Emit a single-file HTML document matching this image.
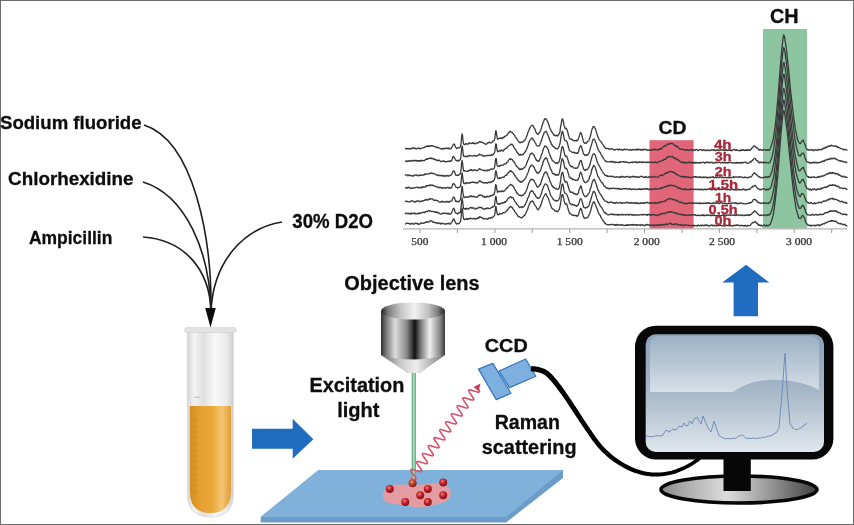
<!DOCTYPE html>
<html><head><meta charset="utf-8">
<style>
html,body{margin:0;padding:0;background:#fff;}
body{width:854px;height:525px;overflow:hidden;position:relative;}
svg{position:absolute;left:0;top:0;will-change:transform;}
.s text{font-family:"Liberation Sans",sans-serif;}
.ax text{font-family:"Liberation Serif",serif;font-weight:normal;}
</style></head><body>
<svg class="s" width="854" height="525" viewBox="0 0 854 525">
<defs>
 <linearGradient id="lensBody" x1="0" x2="1" y1="0" y2="0">
  <stop offset="0" stop-color="#303030"/>
  <stop offset="0.08" stop-color="#777"/>
  <stop offset="0.22" stop-color="#dcdcdc"/>
  <stop offset="0.4" stop-color="#8a8a8a"/>
  <stop offset="0.53" stop-color="#121212"/>
  <stop offset="0.62" stop-color="#7a7a7a"/>
  <stop offset="0.76" stop-color="#efefef"/>
  <stop offset="0.92" stop-color="#8a8a8a"/>
  <stop offset="1" stop-color="#3a3a3a"/>
 </linearGradient>
 <linearGradient id="cone" x1="0" x2="1" y1="0" y2="0">
  <stop offset="0" stop-color="#6c6c6c"/>
  <stop offset="0.3" stop-color="#c8c8c8"/>
  <stop offset="0.55" stop-color="#eeeeee"/>
  <stop offset="0.8" stop-color="#b0b0b0"/>
  <stop offset="1" stop-color="#777"/>
 </linearGradient>
 <linearGradient id="lensTop" x1="0" x2="1" y1="0" y2="0">
  <stop offset="0" stop-color="#262626"/>
  <stop offset="0.1" stop-color="#7c7c7c"/>
  <stop offset="0.3" stop-color="#c4c4c4"/>
  <stop offset="0.52" stop-color="#f2f2f2"/>
  <stop offset="0.75" stop-color="#c0c0c0"/>
  <stop offset="0.9" stop-color="#7c7c7c"/>
  <stop offset="1" stop-color="#262626"/>
 </linearGradient>
 <linearGradient id="scrTop" x1="0" x2="0" y1="0" y2="1">
  <stop offset="0" stop-color="#9cb1c5"/>
  <stop offset="1" stop-color="#d6dfe7"/>
 </linearGradient>
 <linearGradient id="scrBot" x1="0" x2="0" y1="0" y2="1">
  <stop offset="0" stop-color="#8ba2b9"/>
  <stop offset="0.45" stop-color="#a3b5c6"/>
  <stop offset="1" stop-color="#e2e8ee"/>
 </linearGradient>
 <linearGradient id="base" x1="0" x2="1" y1="0" y2="0">
  <stop offset="0" stop-color="#8a8a8a"/>
  <stop offset="0.2" stop-color="#b4b4b4"/>
  <stop offset="0.42" stop-color="#dcdcdc"/>
  <stop offset="0.68" stop-color="#9c9c9c"/>
  <stop offset="1" stop-color="#404040"/>
 </linearGradient>
 <linearGradient id="liquid" x1="0" x2="1" y1="0" y2="0">
  <stop offset="0" stop-color="#d38d1c"/>
  <stop offset="0.25" stop-color="#e5a030"/>
  <stop offset="0.55" stop-color="#e9a838"/>
  <stop offset="0.78" stop-color="#f4c576"/>
  <stop offset="1" stop-color="#e09c33"/>
 </linearGradient>
 <linearGradient id="glass" x1="0" x2="1" y1="0" y2="0">
  <stop offset="0" stop-color="#d6d6d6"/>
  <stop offset="0.15" stop-color="#f3f3f3"/>
  <stop offset="0.35" stop-color="#e0e0e0"/>
  <stop offset="0.6" stop-color="#f8f8f8"/>
  <stop offset="0.85" stop-color="#ebebeb"/>
  <stop offset="1" stop-color="#cfcfcf"/>
 </linearGradient>
 <linearGradient id="beam" x1="0" x2="1">
  <stop offset="0" stop-color="#4f9f6e"/>
  <stop offset="0.5" stop-color="#b4e2c2"/>
  <stop offset="1" stop-color="#4f9f6e"/>
 </linearGradient>
 <radialGradient id="ball" cx="0.4" cy="0.35" r="0.6">
  <stop offset="0" stop-color="#ee8080"/>
  <stop offset="0.5" stop-color="#c4232a"/>
  <stop offset="1" stop-color="#8a1418"/>
 </radialGradient>
 <radialGradient id="ball2" cx="0.4" cy="0.35" r="0.6">
  <stop offset="0" stop-color="#e8a060"/>
  <stop offset="0.5" stop-color="#c0402a"/>
  <stop offset="1" stop-color="#852018"/>
 </radialGradient>
 <clipPath id="scrClip"><rect x="645.7" y="334.3" width="178.3" height="117.7" rx="10"/></clipPath>
</defs>

<rect x="0.5" y="0.5" width="853" height="524" fill="#fff" stroke="#6c6c6c" stroke-width="1"/>

<g fill="#0d0d0d" stroke="#0d0d0d" stroke-width="0.3" font-weight="bold"><text x="0.00" y="129.30" font-size="19.00" textLength="141.50" lengthAdjust="spacingAndGlyphs">Sodium fluoride</text><text x="8.10" y="185.20" font-size="19.00" textLength="125.40" lengthAdjust="spacingAndGlyphs">Chlorhexidine</text><text x="28.90" y="244.00" font-size="18.50" textLength="83.50" lengthAdjust="spacingAndGlyphs">Ampicillin</text><text x="292.30" y="227.70" font-size="19.50" textLength="80.70" lengthAdjust="spacingAndGlyphs">30% D2O</text><text x="344.30" y="289.60" font-size="19.50" textLength="135.30" lengthAdjust="spacingAndGlyphs">Objective lens</text><text x="309.50" y="392.20" font-size="20.00" textLength="94.80" lengthAdjust="spacingAndGlyphs">Excitation</text><text x="337.20" y="417.10" font-size="20.00" textLength="42.20" lengthAdjust="spacingAndGlyphs">light</text><text x="484.80" y="351.90" font-size="19.00" textLength="42.90" lengthAdjust="spacingAndGlyphs">CCD</text><text x="494.70" y="428.60" font-size="20.00" textLength="65.20" lengthAdjust="spacingAndGlyphs">Raman</text><text x="481.80" y="453.90" font-size="20.00" textLength="94.80" lengthAdjust="spacingAndGlyphs">scattering</text><text x="658.50" y="133.80" font-size="19.00" textLength="27.90" lengthAdjust="spacingAndGlyphs">CD</text><text x="770.00" y="22.90" font-size="19.50" textLength="28.60" lengthAdjust="spacingAndGlyphs">CH</text></g>

<g fill="none" stroke="#1e1e1e" stroke-width="1.6">
 <path d="M144 125 C194 141 212 238 211 312"/>
 <path d="M143 182 C185 195 210 250 211 312"/>
 <path d="M143 237 C185 240 210 270 211 312"/>
 <path d="M282 222 C245 228 213 260 211 312"/>
</g>
<path d="M205.2 308 L215.8 308 L210.5 327.5 Z" fill="#0d0d0d"/>

<!-- test tube -->
<path d="M187.4 332 L233.3 332 L233.3 494 Q233.3 517 210.3 517 Q187.4 517 187.4 494 Z" fill="url(#glass)" stroke="#d6d6d6" stroke-width="0.8"/>
<path d="M189.8 406 L231 406 L231 491 Q231 513 210.4 513 Q189.8 513 189.8 491 Z" fill="url(#liquid)"/>
<rect x="184.5" y="327.4" width="51.8" height="5.2" rx="2.6" fill="#e2e2e2" stroke="#d0d0d0" stroke-width="0.6"/>
<line x1="194" y1="397.3" x2="200" y2="397.3" stroke="#b8b8b8" stroke-width="0.8"/>
<g stroke="#c98a2a" stroke-width="0.7">
 <line x1="193" y1="420" x2="198" y2="420"/><line x1="193" y1="426" x2="197" y2="426"/>
 <line x1="193" y1="432" x2="198" y2="432"/><line x1="193" y1="438" x2="197" y2="438"/>
 <line x1="193" y1="444" x2="198" y2="444"/><line x1="193" y1="450" x2="197" y2="450"/>
 <line x1="193" y1="456" x2="198" y2="456"/><line x1="193" y1="462" x2="197" y2="462"/>
 <line x1="193" y1="468" x2="198" y2="468"/><line x1="193" y1="474" x2="197" y2="474"/>
 <line x1="193" y1="480" x2="198" y2="480"/><line x1="193" y1="486" x2="197" y2="486"/>
 <line x1="193" y1="492" x2="198" y2="492"/>
</g>

<path d="M252 428.7 L292.7 428.7 L292.7 418.7 L313.3 439.3 L292.7 458.7 L292.7 448.7 L252 448.7 Z" fill="#1f6cc1"/>

<!-- slide -->
<path d="M318.6 470 L563 470 L563 478 L506 522.5 L260.7 522.5 L260.7 517 Z" fill="#6c9dca"/>
<path d="M318.6 470 L563 470 L506 517 L260.7 517 Z" fill="#80b1da"/>

<!-- sample blob -->
<path d="M383.0 492.9C383.7 490.9 386.0 489.3 388.0 487.9C390.0 486.5 391.2 485.1 394.9 484.6C398.6 484.1 405.0 484.9 410.0 484.8C415.0 484.7 420.2 484.5 425.0 484.2C429.8 483.9 434.8 482.6 438.7 483.2C442.6 483.8 446.6 486.1 448.6 487.9C450.6 489.7 451.1 491.8 450.8 493.9C450.5 496.0 449.3 499.0 446.6 500.8C443.9 502.6 439.2 503.7 434.7 504.8C430.2 505.9 424.8 507.2 419.8 507.3C414.8 507.4 409.9 506.3 404.9 505.6C399.9 504.9 393.4 503.9 389.9 503.0C386.4 502.1 385.1 501.6 384.0 499.9C382.9 498.2 382.3 494.9 383.0 492.9Z" fill="#e39ca2"/>
<g fill="url(#ball)">
 <circle cx="389.8" cy="488.9" r="4"/>
 <circle cx="427.8" cy="488.9" r="4"/>
 <circle cx="443.2" cy="482.4" r="4"/>
 <circle cx="420.2" cy="495.3" r="4"/>
 <circle cx="443.2" cy="495.3" r="4"/>
 <circle cx="405.3" cy="502" r="4"/>
 <circle cx="427.8" cy="502" r="4"/>
</g>
<circle cx="412.6" cy="483.2" r="4" fill="url(#ball2)"/>

<rect x="411.7" y="372" width="4.2" height="108" fill="url(#beam)"/>

<!-- objective lens -->
<path d="M381 311 L445 311 L445 355 L419.5 373 L408 373 L381 355 Z" fill="url(#lensBody)"/>
<path d="M381 355 Q413 364 445 355 L419.5 373 L408 373 Z" fill="url(#cone)"/>
<ellipse cx="413" cy="311" rx="32" ry="8.6" fill="url(#lensTop)"/>
<ellipse cx="413" cy="312" rx="30.5" ry="7" fill="url(#lensTop)" opacity="0.55"/>

<path d="M410.50 478.50L411.19 478.72L411.87 478.94L412.53 479.14L413.15 479.31L413.73 479.45L414.26 479.55L414.72 479.61L415.12 479.62L415.44 479.57L415.68 479.47L415.85 479.31L415.93 479.09L415.93 478.81L415.85 478.48L415.71 478.09L415.49 477.65L415.22 477.17L414.89 476.66L414.52 476.11L414.13 475.54L413.71 474.96L413.28 474.37L412.86 473.78L412.45 473.20L412.06 472.64L411.72 472.11L411.42 471.61L411.17 471.16L410.99 470.75L410.88 470.39L410.84 470.08L410.89 469.83L411.01 469.64L411.22 469.51L411.50 469.44L411.86 469.42L412.29 469.46L412.79 469.54L413.35 469.66L413.95 469.82L414.59 470.01L415.26 470.22L415.95 470.44L416.64 470.66L417.33 470.88L418.00 471.09L418.64 471.27L419.24 471.43L419.80 471.55L420.29 471.63L420.72 471.67L421.08 471.65L421.36 471.57L421.56 471.44L421.68 471.24L421.72 470.99L421.68 470.69L421.57 470.32L421.38 469.91L421.14 469.45L420.84 468.95L420.49 468.42L420.10 467.86L419.69 467.28L419.27 466.69L418.84 466.10L418.42 465.52L418.02 464.95L417.66 464.41L417.33 463.89L417.06 463.41L416.85 462.98L416.71 462.60L416.63 462.26L416.64 461.99L416.73 461.77L416.89 461.61L417.14 461.51L417.46 461.47L417.86 461.48L418.33 461.54L418.86 461.64L419.44 461.78L420.06 461.96L420.72 462.16L421.40 462.37L422.10 462.60L422.79 462.82L423.47 463.03L424.12 463.23L424.74 463.40L425.32 463.54L425.85 463.64L426.31 463.70L426.70 463.70L427.02 463.66L427.26 463.55L427.42 463.39L427.49 463.16L427.49 462.88L427.41 462.55L427.26 462.16L427.05 461.72L426.77 461.24L426.44 460.72L426.07 460.17L425.67 459.60L425.25 459.02L424.83 458.43L424.40 457.84L423.99 457.26L423.61 456.71L423.27 456.18L422.97 455.68L422.73 455.23L422.55 454.82L422.44 454.46L422.41 454.16L422.46 453.91L422.58 453.72L422.79 453.60L423.08 453.52L423.44 453.51L423.88 453.55L424.38 453.63L424.94 453.75L425.54 453.92L426.19 454.10L426.86 454.31L427.55 454.53L428.24 454.76L428.93 454.98L429.60 455.18L430.24 455.37L430.83 455.52L431.38 455.64L431.88 455.72L432.30 455.75L432.66 455.73L432.93 455.65L433.13 455.52L433.25 455.32L433.29 455.07L433.24 454.76L433.13 454.39L432.94 453.98L432.69 453.52L432.39 453.02L432.04 452.48L431.65 451.92L431.24 451.34L430.81 450.75L430.39 450.16L429.97 449.58L429.57 449.01L429.21 448.47L428.89 447.96L428.62 447.48L428.41 447.05L428.27 446.67L428.20 446.34L428.21 446.06L428.30 445.85L428.47 445.69L428.72 445.60L429.04 445.55L429.45 445.57L429.92 445.63L430.45 445.73L431.03 445.88L431.66 446.05L432.32 446.25L433.00 446.47L433.69 446.69L434.38 446.92L435.06 447.13L435.72 447.33L436.34 447.50L436.91 447.64L437.43 447.73L437.89 447.79L438.28 447.79L438.59 447.74L438.83 447.63L438.99 447.47L439.06 447.24L439.06 446.96L438.97 446.62L438.82 446.23L438.60 445.79L438.32 445.30L437.99 444.79L437.62 444.24L437.22 443.67L436.80 443.08L436.37 442.49L435.95 441.90L435.54 441.33L435.16 440.77L434.82 440.24L434.52 439.75L434.28 439.29L434.11 438.89L434.00 438.53L433.98 438.23L434.03 437.99L434.16 437.80L434.37 437.68L434.66 437.61L435.03 437.60L435.47 437.64L435.97 437.72L436.53 437.85L437.13 438.01L437.78 438.20L438.45 438.41L439.14 438.63L439.84 438.85L440.52 439.07L441.19 439.28L441.83 439.46L442.43 439.62L442.97 439.74L443.46 439.81L443.88 439.84L444.24 439.81L444.51 439.73L444.70 439.60L444.82 439.40L444.85 439.14L444.81 438.83L444.69 438.46L444.50 438.05L444.24 437.58L443.94 437.08L443.59 436.55L443.20 435.98L442.79 435.40L442.36 434.82L441.93 434.23L441.52 433.64L441.12 433.08L440.76 432.53L440.44 432.02L440.17 431.55L439.97 431.12L439.83 430.74L439.76 430.41L439.77 430.14L439.87 429.93L440.04 429.77L440.29 429.68L440.63 429.64L441.03 429.65L441.50 429.72L442.04 429.83L442.62 429.97L443.25 430.15L443.91 430.35L444.59 430.57L445.29 430.79L445.98 431.01L446.66 431.23L447.31 431.42L447.93 431.59L448.50 431.73L449.02 431.82L449.47 431.88L449.86 431.88L450.17 431.82L450.40 431.71L450.56 431.54L450.63 431.32L450.62 431.03L450.53 430.69L450.38 430.30L450.15 429.85L449.87 429.37L449.54 428.85L449.17 428.30L448.77 427.73L448.35 427.14L447.92 426.55L447.50 425.96L447.09 425.39L446.71 424.83L446.37 424.31L446.08 423.81L445.84 423.36L445.67 422.96L445.57 422.60L445.54 422.31L445.60 422.07L445.73 421.88L445.95 421.76L446.24 421.70L446.61 421.68L447.05 421.73L447.56 421.81L448.12 421.94L448.73 422.10L449.37 422.29L450.05 422.50L450.74 422.73L451.43 422.95L452.12 423.17L452.78 423.37L453.42 423.56L454.02 423.71L454.56 423.83L455.05 423.90L455.47 423.93L455.81 423.90L456.08 423.82L456.28 423.68L456.39 423.48L456.42 423.22L456.37 422.90L456.24 422.53L456.05 422.11L455.80 421.65L455.49 421.15L455.13 420.61L454.75 420.05L454.33 419.47L453.91 418.88L453.48 418.29L453.06 417.71L452.67 417.14L452.31 416.60L451.99 416.09L451.73 415.62L451.52 415.19L451.39 414.81L451.33 414.49L451.34 414.22L451.44 414.01L451.62 413.86L451.87 413.76L452.21 413.73L452.61 413.74L453.09 413.81L453.63 413.92L454.21 414.07L454.84 414.24L455.51 414.45L456.19 414.66L456.88 414.89L457.57 415.11L458.25 415.32L458.90 415.52L459.52 415.68L460.09 415.82L460.60 415.91L461.06 415.96L461.44 415.96L461.75 415.91L461.98 415.79L462.13 415.62L462.19 415.39L462.18 415.10L462.09 414.76L461.93 414.36L461.71 413.92L461.42 413.43L461.09 412.91L460.72 412.36L460.31 411.79L459.89 411.20L459.47 410.61L459.04 410.03L458.64 409.45L458.26 408.90L457.92 408.37L457.63 407.88L457.40 407.43L457.23 407.03L457.13 406.68L457.11 406.38L457.16 406.14L457.30 405.96L457.52 405.84L457.82 405.78L458.19 405.77L458.64 405.82L459.14 405.90L459.71 406.03L460.32 406.20L460.97 406.39L461.64 406.60L462.33 406.82L463.03 407.05L463.71 407.27L464.38 407.47L465.01 407.65L465.61 407.80L466.15 407.92L466.63 407.99L467.05 408.01L467.39 407.98L467.66 407.90L467.85 407.76L467.95 407.55L467.98 407.29L467.93 406.97L467.80 406.60L467.61 406.18L467.35 405.72L467.04 405.21L466.68 404.67L466.29 404.11L465.88 403.53L465.45 402.94L465.03 402.35L464.61 401.77L464.22 401.20L463.86 400.66L463.54 400.15L463.28 399.68L463.08 399.26L462.95 398.88L462.89 398.56L462.91 398.29L463.01 398.09L463.19 397.94L463.45 397.85L463.79 397.81L464.20 397.83L464.68 397.90L465.21 398.01L465.80 398.16L466.44 398.34L467.10 398.54L467.78 398.76L468.48 398.98L469.17 399.21L469.84 399.42L470.50 399.61L471.11 399.78L471.68 399.91L472.19 400.00L472.64 400.05L473.02 400.05L473.32 399.99L473.55 399.87L473.70 399.70L473.76 399.47L473.75 399.18L473.65 398.83L473.49 398.43L473.26 397.99L472.98 397.50L472.64 396.98L472.27 396.42L471.86 395.85L471.44 395.26L471.01 394.67L470.59 394.09L470.19 393.51L469.81 392.96L469.47 392.44L469.18 391.95L468.95 391.50L468.79 391.10L468.69 390.75L468.67 390.46L468.73 390.22L468.88 390.04L469.10 389.93L469.40 389.87L469.78 389.86L470.22 389.91L470.73 390.00L471.30 390.13L471.91 390.29L472.56 390.49L473.24 390.70L473.93 390.92L474.62 391.14L475.31 391.36L475.97 391.57L476.60 391.75L477.20 391.90L477.74 392.01L478.22 392.08L478.63 392.10L478.97 392.07L479.24 391.98L479.42 391.83L479.52 391.63L479.54 391.37L479.49 391.05L479.36 390.67L479.16 390.25L478.90 389.78L478.59 389.27L478.23 388.73L477.84 388.17L477.43 387.59L477.00 387.00" fill="none" stroke="#d9506c" stroke-width="1.6"/>
<path d="M473.5 387 L480.5 383.5 L478.5 391 Z" fill="#c83a55"/>

<!-- CCD -->
<g fill="#7db0de" stroke="#3474bb" stroke-width="1.2" stroke-linejoin="round">
 <path d="M499 371 L525.7 359 L535.8 376.2 L509.5 387.6 Z"/>
 <path d="M478.5 369.1 L492.8 363.4 L511 393.3 L496.2 399.6 Z"/>
</g>
<path d="M530.5 371.2L531.3 371.3L532.4 371.5L533.6 371.6L534.9 371.8L536.3 372.1L537.7 372.3L539.1 372.6L540.4 373.0L541.6 373.4L542.6 373.8L543.4 374.2L544.3 374.8L545.1 375.3L545.9 375.9L546.6 376.6L547.4 377.3L548.2 378.1L549.1 379.0L550.0 380.0L551.0 381.1L552.0 382.3L553.1 383.5L554.2 384.9L555.3 386.3L556.4 387.8L557.6 389.4L558.8 390.9L559.9 392.5L561.1 394.1L562.3 395.7L563.4 397.3L564.5 399.0L565.7 400.6L566.8 402.3L567.9 404.1L569.1 405.8L570.2 407.5L571.4 409.3L572.5 411.0L573.7 412.7L574.8 414.5L576.0 416.2L577.1 417.9L578.2 419.6L579.4 421.4L580.5 423.1L581.7 424.8L582.8 426.6L584.0 428.3L585.1 429.9L586.3 431.6L587.5 433.3L588.6 435.0L589.8 436.6L590.9 438.3L592.1 439.9L593.3 441.6L594.5 443.1L595.6 444.6L596.8 446.1L598.0 447.4L599.2 448.8L600.4 450.0L601.5 451.2L602.7 452.4L603.9 453.5L605.1 454.6L606.2 455.7L607.4 456.7L608.6 457.7L609.7 458.7L610.9 459.6L612.1 460.5L613.3 461.4L614.5 462.2L615.7 463.0L616.9 463.7L618.0 464.5L619.1 465.2L620.3 465.8L621.4 466.5L622.4 467.1L623.5 467.7L624.6 468.3L625.6 468.9L626.7 469.4L627.8 470.0L628.9 470.5L630.0 471.0L631.2 471.4L632.4 471.9L633.7 472.4L635.0 472.9L636.4 473.3L637.7 473.8L639.1 474.2L640.5 474.5L641.9 474.9L643.2 475.2L644.6 475.5L646.0 475.7L647.3 475.9L648.6 476.1L649.9 476.3L651.3 476.4L652.6 476.5L654.0 476.5L655.3 476.5L656.7 476.5L658.1 476.5L659.5 476.4L660.9 476.3L662.3 476.2L663.8 476.0L665.2 475.8L666.7 475.6L668.1 475.3L669.6 475.0L671.0 474.7L672.5 474.3L674.0 473.9L675.5 473.4L677.0 472.9L678.5 472.3L680.0 471.7L681.4 471.1L682.8 470.5L684.2 469.9L685.5 469.3L686.8 468.6L688.0 468.0L689.2 467.4L690.4 466.7L691.5 466.1L692.5 465.4L693.5 464.8L694.5 464.2L695.4 463.6L696.2 463.0L697.0 462.5L697.7 461.9L698.5 461.4L699.1 460.9L699.7 460.4L700.2 459.9L700.7 459.5L701.2 459.1L701.5 458.8L701.8 458.5L702.1 458.3L699.9 455.7L699.6 455.9L699.3 456.2L698.9 456.6L698.5 456.9L698.0 457.3L697.5 457.7L696.9 458.2L696.3 458.6L695.7 459.1L695.0 459.5L694.2 460.0L693.4 460.6L692.5 461.2L691.6 461.8L690.6 462.4L689.6 463.0L688.5 463.6L687.5 464.2L686.3 464.8L685.2 465.4L684.0 465.9L682.7 466.5L681.3 467.1L680.0 467.7L678.5 468.3L677.1 468.8L675.7 469.4L674.3 469.8L672.9 470.3L671.5 470.7L670.2 471.0L668.8 471.3L667.4 471.6L666.0 471.8L664.7 472.0L663.3 472.2L661.9 472.3L660.6 472.4L659.3 472.5L657.9 472.5L656.6 472.6L655.4 472.6L654.1 472.5L652.8 472.5L651.6 472.4L650.4 472.3L649.1 472.1L647.9 471.9L646.6 471.7L645.4 471.5L644.1 471.2L642.9 470.9L641.6 470.6L640.3 470.2L639.0 469.8L637.7 469.4L636.4 468.9L635.2 468.5L634.0 468.0L632.8 467.6L631.7 467.1L630.6 466.6L629.6 466.1L628.6 465.6L627.6 465.1L626.6 464.6L625.6 464.0L624.6 463.4L623.6 462.8L622.5 462.2L621.4 461.5L620.3 460.8L619.2 460.1L618.1 459.3L617.0 458.6L615.9 457.8L614.8 456.9L613.7 456.1L612.5 455.2L611.4 454.3L610.3 453.3L609.2 452.3L608.1 451.3L607.0 450.3L605.9 449.2L604.8 448.1L603.7 446.9L602.6 445.7L601.5 444.4L600.4 443.1L599.3 441.8L598.1 440.3L597.0 438.8L595.9 437.2L594.8 435.6L593.6 434.0L592.5 432.3L591.3 430.6L590.2 428.9L589.1 427.3L587.9 425.6L586.8 423.9L585.7 422.2L584.5 420.5L583.4 418.8L582.3 417.0L581.1 415.3L580.0 413.5L578.9 411.8L577.7 410.1L576.6 408.3L575.5 406.6L574.3 404.9L573.2 403.1L572.1 401.4L570.9 399.6L569.8 397.9L568.6 396.2L567.5 394.5L566.3 392.9L565.2 391.2L564.0 389.6L562.8 388.0L561.7 386.3L560.5 384.8L559.3 383.2L558.2 381.7L557.0 380.3L555.9 378.9L554.8 377.7L553.8 376.6L552.9 375.5L552.0 374.5L551.0 373.6L550.1 372.7L549.2 371.9L548.2 371.1L547.2 370.4L546.1 369.7L544.8 369.0L543.4 368.4L541.9 367.9L540.4 367.5L538.8 367.1L537.2 366.8L535.8 366.6L534.4 366.3L533.2 366.2L532.2 366.0L531.5 365.8Z" fill="#000"/>

<path d="M746.1 264.8 L769.4 282.5 L758 282.5 L758 316.3 L733.6 316.3 L733.6 282.5 L722.2 282.5 Z" fill="#1f6cc1"/>

<!-- monitor -->
<rect x="635" y="325.7" width="198.4" height="133.8" rx="21" fill="#070707"/>
<g clip-path="url(#scrClip)">
 <rect x="645" y="334" width="180" height="120" fill="url(#scrBot)"/>
 <path d="M650 345 Q650 336 659 336 L810 336 Q819 336 819 345 L819 390 C808 384 790 379 768 380 C752 381 742 386 733 392 L650 392 Z" fill="url(#scrTop)"/>
</g>

<path d="M646.0 435.7L647.0 436.2L648.0 436.2L649.0 436.6L650.0 436.8L651.0 436.4L652.0 436.5L653.0 437.0L654.0 436.2L655.0 435.8L656.0 436.3L657.0 435.5L658.0 435.9L659.0 435.7L660.0 435.9L661.0 435.6L662.0 436.1L663.0 434.9L664.0 433.0L665.0 431.7L666.0 430.0L667.0 430.7L668.0 431.3L669.0 432.2L670.0 430.8L671.0 430.8L672.0 429.8L673.0 429.0L674.0 429.3L675.0 429.7L676.0 430.0L677.0 428.7L678.0 427.3L679.0 426.0L680.0 426.3L681.0 426.7L682.0 427.0L683.0 425.0L684.0 423.0L685.0 424.5L686.0 426.0L687.0 425.5L688.0 425.0L689.0 423.0L690.0 421.0L691.0 422.5L692.0 424.0L693.0 421.5L694.0 419.0L695.0 418.3L696.0 417.7L697.0 417.0L698.0 419.0L699.0 421.0L700.0 422.5L701.0 424.0L702.0 420.0L703.0 416.0L704.0 418.5L705.0 421.0L706.0 423.3L707.0 425.7L708.0 428.0L709.0 429.3L710.0 430.7L711.0 432.0L712.0 428.3L713.0 424.7L714.0 421.0L715.0 424.0L716.0 427.0L717.0 430.0L718.0 433.0L719.0 435.8L720.0 435.9L721.0 437.2L722.0 437.2L723.0 437.9L724.0 438.5L725.0 438.7L726.0 438.9L727.0 438.4L728.0 438.8L729.0 438.4L730.0 438.9L731.0 438.9L732.0 438.1L733.0 438.1L734.0 438.2L735.0 439.0L736.0 437.8L737.0 437.4L738.0 436.4L739.0 436.0L740.0 435.7L741.0 435.3L742.0 435.0L743.0 435.6L744.0 436.4L745.0 437.3L746.0 438.1L747.0 438.4L748.0 438.2L749.0 438.4L750.0 438.4L751.0 438.5L752.0 438.2L753.0 437.7L754.0 438.4L755.0 438.5L756.0 438.4L757.0 438.1L758.0 438.2L759.0 437.7L760.0 438.3L761.0 437.9L762.0 437.4L763.0 437.0L764.0 437.6L765.0 437.5L766.0 436.4L767.0 436.9L768.0 436.3L769.0 435.9L770.0 435.8L771.0 435.8L772.0 435.4L773.0 434.0L774.0 434.1L775.0 433.0L776.0 433.0L777.0 431.3L778.0 429.7L779.0 428.0L780.2 414.0L781.5 400.2L782.7 384.2L783.8 369.0L785.0 353.0L786.2 374.0L787.5 395.0L788.8 409.5L790.0 424.0L791.0 425.3L792.0 426.7L793.0 428.5L794.0 428.5L795.0 429.5L796.0 429.3L797.0 429.6L798.0 429.6L799.0 428.5L800.0 428.2L801.0 427.9L802.0 427.3L803.0 426.0L804.0 425.0L805.0 425.0L806.0 423.6L807.0 423.0" fill="none" stroke="#6283b6" stroke-width="0.85"/>
<ellipse cx="739" cy="489.5" rx="78" ry="13.5" fill="url(#base)" stroke="#070707" stroke-width="3.6"/>
<rect x="723.5" y="458" width="27.3" height="33" fill="#070707"/>

<!-- chart -->
<rect x="649.5" y="140.2" width="44.1" height="88.8" fill="#e2667a"/>
<rect x="763" y="29" width="44.1" height="199.5" fill="#8dc5a1"/>
<line x1="403" y1="228.8" x2="847" y2="228.8" stroke="#b4b4b4" stroke-width="1.2"/>
<g stroke="#9a9a9a" stroke-width="1"><line x1="420.0" y1="229" x2="420.0" y2="233"/><line x1="457.4" y1="229" x2="457.4" y2="233"/><line x1="494.9" y1="229" x2="494.9" y2="233"/><line x1="532.3" y1="229" x2="532.3" y2="233"/><line x1="569.7" y1="229" x2="569.7" y2="233"/><line x1="607.1" y1="229" x2="607.1" y2="233"/><line x1="644.5" y1="229" x2="644.5" y2="233"/><line x1="682.0" y1="229" x2="682.0" y2="233"/><line x1="719.4" y1="229" x2="719.4" y2="233"/><line x1="756.8" y1="229" x2="756.8" y2="233"/><line x1="794.2" y1="229" x2="794.2" y2="233"/><line x1="831.7" y1="229" x2="831.7" y2="233"/></g>
<g class="ax" font-size="9.5" fill="#333" stroke="#333" stroke-width="0.25"><text x="419.8" y="245" text-anchor="middle" textLength="17" lengthAdjust="spacingAndGlyphs">500</text><text x="494.0" y="245" text-anchor="middle" textLength="26" lengthAdjust="spacingAndGlyphs">1 000</text><text x="569.7" y="245" text-anchor="middle" textLength="26" lengthAdjust="spacingAndGlyphs">1 500</text><text x="646.7" y="245" text-anchor="middle" textLength="26" lengthAdjust="spacingAndGlyphs">2 000</text><text x="722.0" y="245" text-anchor="middle" textLength="26" lengthAdjust="spacingAndGlyphs">2 500</text><text x="799.0" y="245" text-anchor="middle" textLength="26" lengthAdjust="spacingAndGlyphs">3 000</text></g>
<g fill="none" stroke="#3a3a3a" stroke-width="1.3" stroke-linejoin="round"><path d="M405.0 148.5L405.5 148.8L405.9 148.3L406.4 148.8L406.8 148.5L407.3 148.5L407.7 148.9L408.2 148.5L408.6 148.9L409.1 148.6L409.5 148.9L410.0 149.0L410.4 148.7L410.9 148.1L411.3 148.7L411.8 148.8L412.2 148.4L412.7 147.9L413.1 148.1L413.6 148.4L414.0 147.8L414.5 148.6L414.9 148.1L415.4 148.5L415.8 148.8L416.3 149.0L416.7 148.8L417.2 148.2L417.6 148.6L418.1 148.4L418.5 148.2L419.0 148.4L419.4 148.2L419.9 148.7L420.3 148.9L420.7 148.7L421.2 148.1L421.6 148.1L422.1 148.2L422.5 147.9L423.0 147.8L423.4 147.9L423.9 147.3L424.3 147.1L424.8 147.4L425.2 147.1L425.7 146.9L426.1 146.4L426.6 146.2L427.0 146.6L427.5 145.9L427.9 146.5L428.4 146.3L428.8 145.8L429.3 146.3L429.7 146.0L430.2 146.4L430.6 145.9L431.1 145.6L431.5 145.8L432.0 145.5L432.4 146.1L432.9 146.0L433.3 146.2L433.8 146.3L434.2 146.6L434.7 146.4L435.1 146.3L435.6 146.9L436.0 147.0L436.5 147.8L436.9 147.5L437.4 147.5L437.8 147.2L438.3 147.3L438.7 148.0L439.2 148.2L439.6 148.1L440.1 148.7L440.5 148.5L441.0 148.8L441.4 149.0L441.9 149.1L442.3 148.4L442.8 148.9L443.2 148.9L443.7 148.8L444.1 148.2L444.6 148.9L445.0 148.7L445.4 148.6L445.9 148.1L446.3 148.0L446.8 147.9L447.2 148.6L447.7 148.7L448.1 148.8L448.6 148.2L449.0 147.9L449.5 148.7L449.9 148.9L450.4 148.9L450.8 148.8L451.3 148.2L451.7 147.3L452.2 146.7L452.6 146.0L453.1 144.8L453.5 144.2L454.0 144.1L454.4 144.2L454.9 145.3L455.3 146.6L455.8 147.3L456.2 147.8L456.7 148.7L457.1 148.1L457.6 147.9L458.0 147.7L458.5 147.6L458.9 147.9L459.4 147.8L459.8 147.8L460.3 146.7L460.7 145.5L461.2 141.9L461.6 136.6L462.1 133.8L462.5 135.6L463.0 140.3L463.4 143.5L463.9 144.5L464.3 144.7L464.8 144.3L465.2 144.5L465.7 143.6L466.1 143.6L466.6 144.0L467.0 144.1L467.5 144.0L467.9 143.9L468.4 144.1L468.8 143.3L469.3 142.8L469.7 143.1L470.1 143.1L470.6 143.6L471.0 143.6L471.5 143.4L471.9 143.3L472.4 142.7L472.8 143.2L473.3 143.6L473.7 142.8L474.2 143.0L474.6 143.6L475.1 143.4L475.5 144.0L476.0 143.6L476.4 143.0L476.9 142.8L477.3 142.8L477.8 143.1L478.2 142.9L478.7 142.8L479.1 141.9L479.6 141.7L480.0 141.4L480.5 141.9L480.9 142.4L481.4 142.2L481.8 142.1L482.3 142.4L482.7 142.7L483.2 142.9L483.6 143.1L484.1 143.7L484.5 143.7L485.0 143.8L485.4 144.2L485.9 144.3L486.3 144.1L486.8 143.9L487.2 143.4L487.7 142.8L488.1 143.1L488.6 142.6L489.0 142.3L489.5 142.1L489.9 142.6L490.4 142.9L490.8 142.9L491.3 142.8L491.7 142.7L492.2 142.0L492.6 141.4L493.1 141.0L493.5 141.1L494.0 140.7L494.4 139.7L494.9 138.2L495.3 134.2L495.7 130.8L496.2 131.2L496.6 134.3L497.1 137.4L497.5 139.1L498.0 138.8L498.4 139.0L498.9 138.5L499.3 138.0L499.8 138.3L500.2 138.4L500.7 137.8L501.1 137.8L501.6 138.3L502.0 138.5L502.5 138.5L502.9 137.6L503.4 137.2L503.8 137.7L504.3 137.0L504.7 136.3L505.2 136.2L505.6 136.2L506.1 135.8L506.5 135.7L507.0 135.5L507.4 134.1L507.9 133.6L508.3 133.2L508.8 132.3L509.2 132.3L509.7 131.6L510.1 131.3L510.6 131.8L511.0 132.0L511.5 132.1L511.9 132.5L512.4 132.5L512.8 133.2L513.3 133.7L513.7 134.6L514.2 134.6L514.6 135.7L515.1 136.5L515.5 137.1L516.0 137.4L516.4 138.5L516.9 138.8L517.3 139.7L517.8 140.3L518.2 140.8L518.7 141.8L519.1 141.9L519.6 142.3L520.0 142.8L520.4 142.2L520.9 142.6L521.3 142.4L521.8 142.0L522.2 142.0L522.7 142.1L523.1 141.7L523.6 141.3L524.0 140.6L524.5 140.7L524.9 139.8L525.4 139.3L525.8 138.5L526.3 137.1L526.7 136.1L527.2 134.9L527.6 133.5L528.1 132.0L528.5 131.2L529.0 129.9L529.4 128.9L529.9 127.9L530.3 126.9L530.8 126.4L531.2 125.9L531.7 125.7L532.1 125.2L532.6 125.5L533.0 125.8L533.5 126.3L533.9 127.7L534.4 128.5L534.8 128.9L535.3 129.8L535.7 131.4L536.2 132.5L536.6 133.0L537.1 133.8L537.5 134.1L538.0 134.4L538.4 133.8L538.9 133.1L539.3 132.3L539.8 132.3L540.2 131.1L540.7 129.9L541.1 129.2L541.6 127.3L542.0 125.5L542.5 124.8L542.9 122.9L543.4 122.0L543.8 121.0L544.3 119.5L544.7 118.8L545.1 119.1L545.6 118.9L546.0 118.9L546.5 119.5L546.9 120.4L547.4 121.2L547.8 121.8L548.3 123.6L548.7 124.5L549.2 125.8L549.6 127.5L550.1 128.6L550.5 129.4L551.0 130.4L551.4 131.9L551.9 131.9L552.3 132.5L552.8 132.9L553.2 134.2L553.7 134.8L554.1 135.4L554.6 135.0L555.0 135.5L555.5 135.9L555.9 135.8L556.4 135.3L556.8 135.2L557.3 135.8L557.7 136.1L558.2 135.2L558.6 134.8L559.1 133.8L559.5 133.1L560.0 131.4L560.4 128.2L560.9 125.4L561.3 123.0L561.8 120.0L562.2 118.9L562.7 118.9L563.1 121.0L563.6 122.5L564.0 125.4L564.5 126.6L564.9 128.0L565.4 128.7L565.8 128.6L566.3 128.2L566.7 129.2L567.2 130.5L567.6 131.6L568.1 133.5L568.5 135.3L569.0 136.8L569.4 138.0L569.8 138.7L570.3 139.0L570.7 139.3L571.2 139.0L571.6 139.5L572.1 139.5L572.5 140.0L573.0 140.1L573.4 140.6L573.9 140.6L574.3 140.9L574.8 140.4L575.2 140.4L575.7 140.9L576.1 140.8L576.6 140.3L577.0 141.0L577.5 140.3L577.9 140.0L578.4 139.2L578.8 137.6L579.3 136.4L579.7 134.9L580.2 133.4L580.6 132.4L581.1 133.2L581.5 134.0L582.0 135.6L582.4 137.5L582.9 139.4L583.3 140.9L583.8 142.2L584.2 142.9L584.7 143.3L585.1 142.7L585.6 143.1L586.0 143.2L586.5 143.3L586.9 142.3L587.4 141.7L587.8 141.3L588.3 141.2L588.7 140.6L589.2 139.7L589.6 138.3L590.1 137.2L590.5 135.5L591.0 134.0L591.4 131.6L591.9 129.7L592.3 128.7L592.8 128.0L593.2 126.5L593.7 126.6L594.1 126.7L594.6 127.5L595.0 128.1L595.4 129.0L595.9 130.2L596.3 131.9L596.8 133.2L597.2 135.0L597.7 136.2L598.1 137.5L598.6 138.2L599.0 139.3L599.5 140.1L599.9 140.5L600.4 141.1L600.8 141.4L601.3 142.1L601.7 142.6L602.2 143.3L602.6 144.1L603.1 144.6L603.5 145.8L604.0 146.7L604.4 146.6L604.9 147.8L605.3 147.8L605.8 148.0L606.2 148.9L606.7 148.4L607.1 148.3L607.6 148.5L608.0 148.6L608.5 148.5L608.9 149.3L609.4 149.2L609.8 149.2L610.3 148.9L610.7 148.8L611.2 148.7L611.6 149.0L612.1 148.8L612.5 149.0L613.0 149.0L613.4 149.6L613.9 150.0L614.3 150.1L614.8 149.9L615.2 150.1L615.7 149.4L616.1 149.4L616.6 149.3L617.0 149.3L617.5 149.2L617.9 149.4L618.4 150.1L618.8 149.4L619.3 149.2L619.7 149.4L620.1 149.5L620.6 149.4L621.0 150.0L621.5 149.5L621.9 149.8L622.4 150.2L622.8 150.1L623.3 149.5L623.7 149.9L624.2 149.5L624.6 149.0L625.1 149.4L625.5 149.7L626.0 149.7L626.4 149.4L626.9 149.3L627.3 149.4L627.8 149.4L628.2 150.0L628.7 150.2L629.1 150.1L629.6 149.6L630.0 149.8L630.5 149.7L630.9 150.2L631.4 150.4L631.8 150.2L632.3 149.7L632.7 149.5L633.2 149.4L633.6 149.8L634.1 149.7L634.5 149.7L635.0 149.7L635.4 150.1L635.9 149.4L636.3 149.9L636.8 149.3L637.2 149.0L637.7 150.0L638.1 149.9L638.6 149.4L639.0 149.1L639.5 149.5L639.9 149.9L640.4 150.1L640.8 149.4L641.3 149.9L641.7 149.7L642.2 150.1L642.6 149.9L643.1 149.3L643.5 150.0L644.0 149.5L644.4 149.6L644.8 149.3L645.3 149.3L645.7 149.9L646.2 149.4L646.6 149.6L647.1 150.2L647.5 150.5L648.0 150.1L648.4 149.9L648.9 150.1L649.3 150.3L649.8 150.1L650.2 150.1L650.7 149.5L651.1 150.2L651.6 149.7L652.0 149.4L652.5 150.0L652.9 149.4L653.4 149.4L653.8 149.2L654.3 149.7L654.7 149.9L655.2 149.9L655.6 149.2L656.1 149.4L656.5 149.7L657.0 149.7L657.4 149.8L657.9 150.1L658.3 150.1L658.8 149.2L659.2 149.4L659.7 148.6L660.1 149.0L660.6 149.1L661.0 148.7L661.5 148.8L661.9 148.4L662.4 147.5L662.8 147.1L663.3 146.8L663.7 146.7L664.2 146.2L664.6 145.7L665.1 145.8L665.5 145.4L666.0 145.8L666.4 145.1L666.9 144.9L667.3 144.3L667.8 144.0L668.2 144.2L668.7 144.4L669.1 143.4L669.5 143.9L670.0 143.6L670.4 143.6L670.9 143.7L671.3 143.3L671.8 142.9L672.2 143.7L672.7 143.7L673.1 144.2L673.6 144.3L674.0 144.6L674.5 145.2L674.9 145.7L675.4 146.0L675.8 145.5L676.3 146.0L676.7 146.7L677.2 146.4L677.6 146.4L678.1 147.2L678.5 148.0L679.0 148.4L679.4 148.8L679.9 148.8L680.3 149.2L680.8 149.3L681.2 149.5L681.7 149.2L682.1 148.9L682.6 149.0L683.0 149.4L683.5 149.6L683.9 149.7L684.4 149.9L684.8 150.0L685.3 150.4L685.7 150.3L686.2 149.6L686.6 150.2L687.1 150.0L687.5 149.9L688.0 149.5L688.4 150.1L688.9 150.3L689.3 150.4L689.8 150.3L690.2 150.2L690.7 149.6L691.1 149.5L691.6 149.4L692.0 150.3L692.5 150.7L692.9 150.1L693.4 149.6L693.8 149.9L694.3 149.9L694.7 150.5L695.1 150.4L695.6 149.7L696.0 149.6L696.5 149.5L696.9 149.3L697.4 150.0L697.8 150.5L698.3 150.6L698.7 150.3L699.2 149.9L699.6 149.5L700.1 149.6L700.5 149.7L701.0 149.7L701.4 150.0L701.9 150.0L702.3 150.6L702.8 150.0L703.2 150.3L703.7 149.7L704.1 149.8L704.6 150.2L705.0 150.5L705.5 150.6L705.9 150.1L706.4 149.9L706.8 150.4L707.3 150.7L707.7 150.3L708.2 150.1L708.6 150.2L709.1 150.5L709.5 150.1L710.0 150.7L710.4 150.5L710.9 150.3L711.3 149.7L711.8 149.8L712.2 149.5L712.7 149.9L713.1 150.3L713.6 150.5L714.0 149.7L714.5 149.7L714.9 150.2L715.4 150.7L715.8 150.3L716.3 150.0L716.7 150.1L717.2 150.4L717.6 150.0L718.1 149.6L718.5 150.2L719.0 150.7L719.4 150.5L719.8 150.3L720.3 150.0L720.7 150.4L721.2 149.9L721.6 149.8L722.1 150.0L722.5 150.4L723.0 149.7L723.4 150.1L723.9 149.8L724.3 150.3L724.8 150.5L725.2 150.0L725.7 150.3L726.1 149.7L726.6 149.9L727.0 150.4L727.5 150.5L727.9 150.4L728.4 150.0L728.8 149.6L729.3 150.3L729.7 150.3L730.2 150.5L730.6 149.7L731.1 150.3L731.5 150.7L732.0 150.8L732.4 150.5L732.9 149.8L733.3 149.6L733.8 149.6L734.2 149.4L734.7 149.3L735.1 150.0L735.6 150.4L736.0 149.7L736.5 149.7L736.9 150.4L737.4 150.1L737.8 150.2L738.3 150.3L738.7 150.4L739.2 150.6L739.6 150.8L740.1 150.6L740.5 150.5L741.0 149.8L741.4 150.4L741.9 149.7L742.3 150.3L742.8 150.3L743.2 149.8L743.7 149.6L744.1 150.0L744.5 150.6L745.0 150.3L745.4 150.3L745.9 149.7L746.3 150.3L746.8 150.3L747.2 149.7L747.7 150.5L748.1 150.3L748.6 149.8L749.0 149.6L749.5 150.2L749.9 150.4L750.4 150.3L750.8 149.1L751.3 149.1L751.7 148.3L752.2 147.5L752.6 147.5L753.1 147.2L753.5 146.2L754.0 146.0L754.4 146.3L754.9 146.0L755.3 146.5L755.8 147.0L756.2 147.8L756.7 147.7L757.1 147.7L757.6 148.3L758.0 148.4L758.5 149.7L758.9 150.0L759.4 150.0L759.8 149.5L760.3 149.3L760.7 149.9L761.2 150.3L761.6 150.2L762.1 150.2L762.5 149.7L763.0 150.3L763.4 149.8L763.9 149.7L764.3 149.6L764.8 149.6L765.2 149.8L765.7 150.1L766.1 150.3L766.6 150.3L767.0 149.8L767.5 150.3L767.9 150.4L768.4 149.7L768.8 150.0L769.3 150.2L769.7 150.1L770.1 149.0L770.6 148.2L771.0 146.5L771.5 145.1L771.9 143.4L772.4 142.5L772.8 141.0L773.3 139.0L773.7 136.2L774.2 133.1L774.6 130.1L775.1 127.0L775.5 123.2L776.0 118.9L776.4 114.3L776.9 109.4L777.3 104.2L777.8 99.0L778.2 94.1L778.7 87.8L779.1 82.3L779.6 76.3L780.0 70.6L780.5 64.5L780.9 59.5L781.4 54.4L781.8 49.6L782.3 45.3L782.7 40.7L783.2 37.4L783.6 35.0L784.1 35.5L784.5 36.9L785.0 39.7L785.4 42.9L785.9 45.6L786.3 49.0L786.8 52.3L787.2 57.1L787.7 61.1L788.1 65.0L788.6 69.2L789.0 73.6L789.5 79.0L789.9 83.6L790.4 88.3L790.8 92.8L791.3 96.3L791.7 100.6L792.2 104.3L792.6 108.7L793.1 112.0L793.5 115.9L794.0 119.6L794.4 122.3L794.8 124.9L795.3 128.4L795.7 130.7L796.2 132.9L796.6 135.4L797.1 137.3L797.5 139.3L798.0 140.8L798.4 141.9L798.9 142.5L799.3 142.8L799.8 143.5L800.2 143.7L800.7 143.2L801.1 142.1L801.6 141.8L802.0 141.1L802.5 140.7L802.9 140.0L803.4 140.4L803.8 141.7L804.3 143.0L804.7 144.1L805.2 145.2L805.6 146.2L806.1 147.9L806.5 148.8L807.0 149.0L807.4 149.5L807.9 150.0L808.3 150.2L808.8 149.6L809.2 150.1L809.7 150.0L810.1 150.2L810.6 150.2L811.0 149.7L811.5 149.4L811.9 150.0L812.4 150.4L812.8 149.9L813.3 150.3L813.7 150.7L814.2 149.9L814.6 150.1L815.1 149.7L815.5 150.0L816.0 149.6L816.4 149.8L816.9 150.3L817.3 150.6L817.8 150.1L818.2 149.8L818.7 149.3L819.1 150.0L819.5 149.6L820.0 149.7L820.4 149.5L820.9 149.8L821.3 149.7L821.8 149.3L822.2 148.6L822.7 149.2L823.1 148.9L823.6 148.3L824.0 147.8L824.5 148.3L824.9 148.5L825.4 147.5L825.8 147.0L826.3 147.2L826.7 147.6L827.2 146.7L827.6 146.8L828.1 146.2L828.5 146.1L829.0 145.8L829.4 146.3L829.9 145.7L830.3 146.1L830.8 146.0L831.2 145.4L831.7 145.2L832.1 145.8L832.6 146.0L833.0 145.9L833.5 145.8L833.9 145.9L834.4 146.3L834.8 146.4L835.3 146.0L835.7 145.8L836.2 146.7L836.6 146.6L837.1 146.5L837.5 147.4L838.0 147.0L838.4 147.7L838.9 147.6L839.3 147.7L839.8 147.8L840.2 148.3L840.7 148.5L841.1 148.5L841.6 148.8L842.0 148.7L842.5 149.0L842.9 149.2L843.4 149.8L843.8 149.4L844.2 149.5L844.7 149.9L845.1 149.5L845.6 149.3L846.0 149.7L846.5 150.1L846.9 150.0L847.4 150.4"/><path d="M405.0 161.3L405.5 161.1L405.9 161.5L406.4 161.2L406.8 161.0L407.3 161.5L407.7 161.0L408.2 161.4L408.6 160.9L409.1 160.6L409.5 160.8L410.0 161.4L410.4 161.1L410.9 161.1L411.3 160.5L411.8 161.2L412.2 160.6L412.7 160.3L413.1 160.4L413.6 160.4L414.0 161.1L414.5 160.5L414.9 160.8L415.4 160.4L415.8 160.3L416.3 161.0L416.7 160.7L417.2 160.4L417.6 161.2L418.1 161.2L418.5 160.7L419.0 161.2L419.4 160.6L419.9 161.0L420.3 160.5L420.7 161.0L421.2 160.8L421.6 160.2L422.1 160.7L422.5 160.8L423.0 160.5L423.4 160.5L423.9 160.7L424.3 160.6L424.8 160.5L425.2 159.5L425.7 159.3L426.1 158.9L426.6 159.4L427.0 158.9L427.5 159.3L427.9 158.9L428.4 158.6L428.8 158.7L429.3 158.2L429.7 158.3L430.2 158.3L430.6 158.0L431.1 158.7L431.5 158.1L432.0 158.3L432.4 158.7L432.9 158.5L433.3 159.1L433.8 158.6L434.2 159.0L434.7 159.5L435.1 159.3L435.6 159.7L436.0 160.2L436.5 159.9L436.9 160.6L437.4 160.1L437.8 160.6L438.3 160.5L438.7 160.1L439.2 160.4L439.6 160.5L440.1 160.9L440.5 161.5L441.0 161.7L441.4 161.7L441.9 161.2L442.3 161.2L442.8 161.1L443.2 160.7L443.7 161.3L444.1 161.5L444.6 161.1L445.0 161.7L445.4 161.9L445.9 161.6L446.3 161.8L446.8 161.6L447.2 161.6L447.7 161.3L448.1 161.1L448.6 161.5L449.0 161.2L449.5 161.2L449.9 161.5L450.4 160.8L450.8 161.1L451.3 161.0L451.7 160.6L452.2 159.1L452.6 157.6L453.1 156.6L453.5 156.5L454.0 156.9L454.4 158.0L454.9 158.4L455.3 159.3L455.8 160.3L456.2 160.5L456.7 160.9L457.1 160.5L457.6 160.5L458.0 161.0L458.5 160.3L458.9 160.9L459.4 160.4L459.8 160.1L460.3 159.6L460.7 158.2L461.2 153.7L461.6 149.1L462.1 146.0L462.5 147.4L463.0 152.4L463.4 155.7L463.9 156.4L464.3 156.6L464.8 156.3L465.2 156.0L465.7 156.6L466.1 156.6L466.6 156.6L467.0 156.9L467.5 156.1L467.9 155.8L468.4 155.8L468.8 156.5L469.3 155.8L469.7 155.5L470.1 155.7L470.6 155.4L471.0 155.6L471.5 155.8L471.9 156.1L472.4 156.0L472.8 156.2L473.3 156.0L473.7 155.6L474.2 155.5L474.6 155.4L475.1 155.5L475.5 156.1L476.0 156.0L476.4 156.1L476.9 155.7L477.3 155.7L477.8 155.8L478.2 155.3L478.7 154.5L479.1 154.8L479.6 154.0L480.0 154.7L480.5 154.8L480.9 155.1L481.4 154.9L481.8 154.8L482.3 155.2L482.7 155.9L483.2 155.7L483.6 156.2L484.1 156.5L484.5 155.9L485.0 155.9L485.4 155.9L485.9 155.8L486.3 155.5L486.8 155.8L487.2 155.5L487.7 155.5L488.1 155.3L488.6 155.6L489.0 155.3L489.5 155.3L489.9 155.5L490.4 155.6L490.8 155.1L491.3 155.4L491.7 154.5L492.2 154.9L492.6 155.0L493.1 154.8L493.5 153.7L494.0 153.6L494.4 153.1L494.9 151.2L495.3 147.6L495.7 144.0L496.2 144.2L496.6 147.1L497.1 149.8L497.5 151.7L498.0 151.6L498.4 151.7L498.9 151.1L499.3 150.7L499.8 150.5L500.2 151.2L500.7 150.6L501.1 150.2L501.6 150.0L502.0 150.8L502.5 150.9L502.9 151.0L503.4 151.0L503.8 150.0L504.3 149.4L504.7 149.3L505.2 148.7L505.6 148.5L506.1 148.5L506.5 148.4L507.0 148.1L507.4 146.9L507.9 146.7L508.3 146.2L508.8 145.6L509.2 145.6L509.7 145.2L510.1 144.9L510.6 144.2L511.0 144.4L511.5 144.6L511.9 144.2L512.4 144.8L512.8 145.0L513.3 145.7L513.7 147.1L514.2 147.7L514.6 148.4L515.1 148.8L515.5 149.8L516.0 150.3L516.4 151.1L516.9 152.2L517.3 152.2L517.8 153.4L518.2 153.3L518.7 154.2L519.1 154.9L519.6 155.1L520.0 154.6L520.4 154.3L520.9 155.2L521.3 155.0L521.8 154.9L522.2 154.4L522.7 154.7L523.1 154.4L523.6 154.1L524.0 153.2L524.5 153.1L524.9 151.9L525.4 151.7L525.8 151.1L526.3 149.7L526.7 148.7L527.2 148.0L527.6 146.4L528.1 145.6L528.5 143.8L529.0 142.5L529.4 141.2L529.9 140.3L530.3 139.8L530.8 139.2L531.2 138.7L531.7 138.0L532.1 138.6L532.6 138.2L533.0 139.4L533.5 140.1L533.9 140.8L534.4 140.9L534.8 142.0L535.3 143.1L535.7 143.5L536.2 144.8L536.6 145.4L537.1 145.9L537.5 145.9L538.0 145.9L538.4 146.0L538.9 146.0L539.3 145.7L539.8 145.2L540.2 143.6L540.7 142.5L541.1 141.1L541.6 140.4L542.0 138.9L542.5 137.1L542.9 135.8L543.4 135.0L543.8 133.8L544.3 132.3L544.7 132.1L545.1 131.9L545.6 131.8L546.0 131.4L546.5 131.5L546.9 132.8L547.4 133.9L547.8 135.0L548.3 136.1L548.7 137.1L549.2 138.7L549.6 139.9L550.1 141.3L550.5 141.6L551.0 142.7L551.4 144.3L551.9 144.4L552.3 145.8L552.8 146.4L553.2 146.2L553.7 146.6L554.1 147.0L554.6 147.6L555.0 148.2L555.5 148.0L555.9 148.6L556.4 148.7L556.8 148.6L557.3 149.0L557.7 148.6L558.2 147.9L558.6 147.3L559.1 146.6L559.5 145.2L560.0 143.3L560.4 141.2L560.9 137.9L561.3 135.2L561.8 132.7L562.2 131.3L562.7 131.8L563.1 133.2L563.6 135.1L564.0 137.6L564.5 139.8L564.9 140.5L565.4 140.7L565.8 140.7L566.3 140.9L566.7 141.2L567.2 142.3L567.6 143.8L568.1 145.7L568.5 147.5L569.0 148.7L569.4 150.3L569.8 150.9L570.3 150.9L570.7 151.2L571.2 151.5L571.6 152.1L572.1 152.2L572.5 152.3L573.0 152.3L573.4 152.6L573.9 152.5L574.3 152.2L574.8 153.1L575.2 152.9L575.7 152.8L576.1 153.3L576.6 153.3L577.0 152.8L577.5 153.4L577.9 152.7L578.4 152.2L578.8 150.4L579.3 148.5L579.7 147.3L580.2 146.6L580.6 145.7L581.1 145.9L581.5 146.7L582.0 148.5L582.4 150.2L582.9 151.6L583.3 153.2L583.8 154.3L584.2 154.4L584.7 155.3L585.1 155.2L585.6 155.4L586.0 155.1L586.5 155.6L586.9 154.6L587.4 154.7L587.8 154.8L588.3 154.2L588.7 153.2L589.2 152.6L589.6 151.1L590.1 149.6L590.5 147.7L591.0 146.4L591.4 144.9L591.9 143.4L592.3 141.5L592.8 139.9L593.2 139.3L593.7 139.4L594.1 138.9L594.6 139.5L595.0 140.6L595.4 142.0L595.9 142.6L596.3 143.8L596.8 145.3L597.2 147.0L597.7 148.2L598.1 149.7L598.6 150.0L599.0 151.2L599.5 151.8L599.9 152.2L600.4 152.7L600.8 153.8L601.3 154.8L601.7 155.4L602.2 156.6L602.6 156.8L603.1 157.9L603.5 158.2L604.0 159.3L604.4 159.9L604.9 160.5L605.3 160.8L605.8 161.3L606.2 161.8L606.7 161.3L607.1 161.6L607.6 161.9L608.0 161.9L608.5 161.8L608.9 161.8L609.4 161.7L609.8 161.6L610.3 161.9L610.7 161.4L611.2 161.3L611.6 162.2L612.1 161.7L612.5 161.4L613.0 161.5L613.4 162.2L613.9 161.7L614.3 161.8L614.8 162.5L615.2 162.8L615.7 161.9L616.1 161.8L616.6 162.3L617.0 162.6L617.5 162.7L617.9 162.7L618.4 162.1L618.8 162.3L619.3 162.6L619.7 161.9L620.1 161.7L620.6 162.4L621.0 161.8L621.5 161.9L621.9 161.8L622.4 161.8L622.8 161.6L623.3 161.7L623.7 161.6L624.2 162.3L624.6 162.0L625.1 162.1L625.5 161.9L626.0 162.2L626.4 161.8L626.9 162.0L627.3 162.4L627.8 162.6L628.2 162.8L628.7 162.5L629.1 162.8L629.6 162.5L630.0 162.8L630.5 162.5L630.9 162.3L631.4 162.3L631.8 161.9L632.3 162.7L632.7 162.0L633.2 162.2L633.6 162.2L634.1 162.1L634.5 161.8L635.0 162.2L635.4 162.4L635.9 161.8L636.3 162.6L636.8 162.3L637.2 162.1L637.7 162.8L638.1 162.4L638.6 162.1L639.0 161.8L639.5 162.3L639.9 161.8L640.4 162.1L640.8 162.2L641.3 161.9L641.7 162.7L642.2 162.2L642.6 162.1L643.1 162.4L643.5 162.0L644.0 162.3L644.4 162.4L644.8 162.3L645.3 162.0L645.7 162.5L646.2 162.5L646.6 162.5L647.1 162.4L647.5 162.0L648.0 162.4L648.4 162.0L648.9 162.3L649.3 162.4L649.8 162.6L650.2 162.5L650.7 161.9L651.1 162.0L651.6 161.9L652.0 162.4L652.5 162.6L652.9 162.7L653.4 162.4L653.8 162.2L654.3 162.0L654.7 162.7L655.2 162.2L655.6 161.8L656.1 162.0L656.5 162.6L657.0 162.6L657.4 162.8L657.9 162.7L658.3 161.8L658.8 161.7L659.2 161.6L659.7 161.3L660.1 161.0L660.6 161.1L661.0 161.0L661.5 160.8L661.9 160.6L662.4 160.4L662.8 160.1L663.3 160.4L663.7 159.8L664.2 159.6L664.6 159.0L665.1 159.4L665.5 159.2L666.0 159.1L666.4 158.1L666.9 157.4L667.3 157.2L667.8 157.3L668.2 156.8L668.7 156.5L669.1 156.5L669.5 156.8L670.0 156.8L670.4 156.7L670.9 156.8L671.3 156.7L671.8 156.5L672.2 156.2L672.7 157.2L673.1 157.1L673.6 157.8L674.0 158.2L674.5 157.7L674.9 158.0L675.4 157.9L675.8 158.5L676.3 159.5L676.7 159.6L677.2 159.6L677.6 159.4L678.1 159.5L678.5 160.2L679.0 160.7L679.4 161.3L679.9 161.1L680.3 161.6L680.8 162.0L681.2 162.4L681.7 162.6L682.1 162.1L682.6 162.5L683.0 161.8L683.5 162.5L683.9 162.0L684.4 162.6L684.8 163.0L685.3 162.4L685.7 162.8L686.2 162.4L686.6 162.8L687.1 163.1L687.5 162.5L688.0 162.3L688.4 162.1L688.9 162.1L689.3 162.9L689.8 162.6L690.2 162.4L690.7 162.6L691.1 162.1L691.6 162.7L692.0 162.1L692.5 162.2L692.9 163.0L693.4 163.3L693.8 162.7L694.3 162.3L694.7 163.0L695.1 163.0L695.6 162.5L696.0 163.0L696.5 162.4L696.9 162.6L697.4 163.1L697.8 163.0L698.3 162.7L698.7 162.8L699.2 162.5L699.6 163.0L700.1 162.5L700.5 162.8L701.0 162.6L701.4 162.5L701.9 162.7L702.3 162.8L702.8 162.4L703.2 162.1L703.7 162.1L704.1 162.4L704.6 162.8L705.0 163.2L705.5 162.4L705.9 162.4L706.4 162.2L706.8 162.7L707.3 162.6L707.7 162.1L708.2 162.1L708.6 162.4L709.1 162.8L709.5 162.8L710.0 162.3L710.4 162.7L710.9 162.5L711.3 162.5L711.8 162.2L712.2 162.2L712.7 162.7L713.1 163.3L713.6 163.2L714.0 163.0L714.5 162.7L714.9 162.4L715.4 162.1L715.8 163.0L716.3 162.4L716.7 162.3L717.2 162.1L717.6 162.4L718.1 162.8L718.5 162.4L719.0 162.2L719.4 162.3L719.8 162.1L720.3 162.6L720.7 163.1L721.2 162.8L721.6 162.4L722.1 162.9L722.5 162.5L723.0 162.1L723.4 162.8L723.9 162.6L724.3 162.5L724.8 162.6L725.2 163.0L725.7 163.1L726.1 162.6L726.6 162.3L727.0 162.6L727.5 163.1L727.9 162.5L728.4 162.3L728.8 162.8L729.3 162.7L729.7 162.3L730.2 162.1L730.6 162.4L731.1 162.6L731.5 162.6L732.0 163.0L732.4 163.2L732.9 163.2L733.3 162.7L733.8 162.8L734.2 162.7L734.7 162.8L735.1 162.7L735.6 163.1L736.0 163.4L736.5 162.4L736.9 162.7L737.4 163.1L737.8 162.7L738.3 162.4L738.7 163.0L739.2 162.7L739.6 162.9L740.1 162.7L740.5 163.2L741.0 163.4L741.4 162.5L741.9 162.2L742.3 162.5L742.8 162.6L743.2 162.9L743.7 162.5L744.1 162.7L744.5 162.2L745.0 162.2L745.4 162.2L745.9 162.0L746.3 162.7L746.8 163.2L747.2 163.2L747.7 163.2L748.1 163.3L748.6 163.4L749.0 162.8L749.5 162.2L749.9 162.3L750.4 161.6L750.8 161.2L751.3 161.8L751.7 161.1L752.2 160.7L752.6 160.6L753.1 159.3L753.5 159.3L754.0 158.8L754.4 158.5L754.9 158.2L755.3 158.5L755.8 159.3L756.2 159.8L756.7 160.7L757.1 160.4L757.6 160.6L758.0 161.7L758.5 162.5L758.9 162.7L759.4 162.8L759.8 162.2L760.3 162.0L760.7 162.0L761.2 162.9L761.6 162.5L762.1 162.4L762.5 162.4L763.0 162.0L763.4 162.9L763.9 163.2L764.3 162.6L764.8 162.2L765.2 162.3L765.7 162.7L766.1 162.6L766.6 162.3L767.0 162.9L767.5 162.9L767.9 162.9L768.4 163.0L768.8 162.6L769.3 162.6L769.7 162.4L770.1 161.9L770.6 160.6L771.0 160.0L771.5 158.2L771.9 157.1L772.4 155.7L772.8 153.0L773.3 151.2L773.7 148.2L774.2 145.2L774.6 142.1L775.1 139.5L775.5 135.7L776.0 132.0L776.4 126.8L776.9 121.9L777.3 117.0L777.8 111.9L778.2 106.6L778.7 100.4L779.1 94.7L779.6 88.8L780.0 83.4L780.5 77.8L780.9 72.5L781.4 66.6L781.8 61.7L782.3 57.7L782.7 53.2L783.2 50.3L783.6 47.6L784.1 48.4L784.5 50.5L785.0 52.3L785.4 55.4L785.9 58.8L786.3 62.0L786.8 65.8L787.2 69.2L787.7 73.9L788.1 77.5L788.6 82.7L789.0 86.5L789.5 91.0L789.9 96.1L790.4 100.5L790.8 105.1L791.3 109.5L791.7 113.9L792.2 117.8L792.6 120.9L793.1 124.4L793.5 127.9L794.0 132.1L794.4 135.4L794.8 137.7L795.3 141.1L795.7 143.2L796.2 145.8L796.6 147.3L797.1 150.0L797.5 151.2L798.0 152.9L798.4 154.5L798.9 155.7L799.3 155.5L799.8 155.7L800.2 156.0L800.7 155.5L801.1 154.3L801.6 154.2L802.0 153.4L802.5 153.3L802.9 153.3L803.4 153.0L803.8 153.6L804.3 155.2L804.7 156.9L805.2 158.4L805.6 159.1L806.1 160.1L806.5 161.2L807.0 162.0L807.4 162.1L807.9 162.1L808.3 162.0L808.8 162.3L809.2 162.9L809.7 163.2L810.1 162.7L810.6 162.8L811.0 162.5L811.5 163.1L811.9 162.5L812.4 162.8L812.8 162.3L813.3 162.1L813.7 162.5L814.2 163.1L814.6 162.4L815.1 162.6L815.5 162.2L816.0 162.7L816.4 163.0L816.9 162.3L817.3 162.6L817.8 162.9L818.2 162.7L818.7 162.4L819.1 162.9L819.5 162.5L820.0 162.3L820.4 162.1L820.9 162.4L821.3 161.8L821.8 161.4L822.2 161.1L822.7 161.5L823.1 161.1L823.6 161.2L824.0 160.7L824.5 161.2L824.9 160.4L825.4 159.8L825.8 160.0L826.3 159.9L826.7 159.8L827.2 159.6L827.6 159.9L828.1 158.9L828.5 159.2L829.0 159.3L829.4 159.3L829.9 159.1L830.3 158.3L830.8 158.8L831.2 158.9L831.7 158.3L832.1 158.6L832.6 158.9L833.0 158.4L833.5 158.2L833.9 158.3L834.4 158.2L834.8 158.9L835.3 158.4L835.7 158.5L836.2 159.4L836.6 159.7L837.1 159.6L837.5 159.7L838.0 160.0L838.4 160.5L838.9 160.5L839.3 160.9L839.8 160.7L840.2 160.4L840.7 161.2L841.1 161.1L841.6 161.0L842.0 161.7L842.5 161.3L842.9 161.1L843.4 161.7L843.8 162.0L844.2 161.7L844.7 162.0L845.1 162.3L845.6 161.8L846.0 161.9L846.5 162.4L846.9 162.7L847.4 162.8"/><path d="M405.0 175.6L405.5 175.0L405.9 175.0L406.4 174.8L406.8 174.9L407.3 174.9L407.7 175.8L408.2 175.6L408.6 175.1L409.1 174.9L409.5 175.5L410.0 175.6L410.4 175.4L410.9 175.6L411.3 175.6L411.8 176.0L412.2 175.8L412.7 175.7L413.1 176.1L413.6 176.2L414.0 175.3L414.5 175.1L414.9 174.9L415.4 175.2L415.8 175.1L416.3 174.9L416.7 174.9L417.2 175.8L417.6 175.5L418.1 175.8L418.5 175.4L419.0 175.7L419.4 175.5L419.9 175.0L420.3 175.1L420.7 175.5L421.2 175.3L421.6 175.3L422.1 174.7L422.5 175.1L423.0 175.2L423.4 174.8L423.9 175.1L424.3 174.7L424.8 174.0L425.2 174.1L425.7 174.3L426.1 174.1L426.6 173.9L427.0 174.1L427.5 174.1L427.9 174.1L428.4 173.8L428.8 173.5L429.3 173.5L429.7 173.5L430.2 173.7L430.6 173.3L431.1 172.8L431.5 172.9L432.0 173.1L432.4 173.1L432.9 173.7L433.3 173.4L433.8 173.7L434.2 173.8L434.7 173.9L435.1 174.1L435.6 174.5L436.0 174.8L436.5 175.1L436.9 174.9L437.4 175.1L437.8 175.0L438.3 175.7L438.7 175.6L439.2 175.1L439.6 175.6L440.1 175.5L440.5 175.5L441.0 175.8L441.4 175.2L441.9 175.7L442.3 175.4L442.8 175.9L443.2 176.3L443.7 175.5L444.1 175.7L444.6 176.2L445.0 176.0L445.4 175.9L445.9 175.6L446.3 176.1L446.8 176.2L447.2 175.4L447.7 175.4L448.1 176.0L448.6 176.0L449.0 176.0L449.5 175.7L449.9 175.6L450.4 175.2L450.8 175.0L451.3 174.9L451.7 174.2L452.2 173.2L452.6 172.1L453.1 171.5L453.5 170.8L454.0 170.9L454.4 171.3L454.9 173.1L455.3 173.6L455.8 175.2L456.2 175.1L456.7 175.3L457.1 175.5L457.6 175.0L458.0 175.2L458.5 175.3L458.9 174.8L459.4 174.4L459.8 174.2L460.3 173.9L460.7 172.2L461.2 168.5L461.6 163.0L462.1 160.5L462.5 162.6L463.0 166.8L463.4 170.0L463.9 171.2L464.3 170.9L464.8 170.6L465.2 170.8L465.7 171.0L466.1 171.3L466.6 171.3L467.0 171.4L467.5 171.0L467.9 170.8L468.4 171.2L468.8 170.4L469.3 170.7L469.7 170.2L470.1 169.9L470.6 169.6L471.0 170.3L471.5 170.3L471.9 169.7L472.4 170.5L472.8 170.8L473.3 170.4L473.7 170.3L474.2 169.9L474.6 170.0L475.1 170.3L475.5 170.0L476.0 170.4L476.4 170.5L476.9 170.4L477.3 170.5L477.8 170.4L478.2 169.9L478.7 169.7L479.1 168.8L479.6 168.7L480.0 168.8L480.5 169.4L480.9 169.6L481.4 169.8L481.8 170.0L482.3 170.2L482.7 170.1L483.2 170.0L483.6 170.5L484.1 170.8L484.5 170.7L485.0 170.2L485.4 170.7L485.9 170.7L486.3 170.3L486.8 170.9L487.2 170.9L487.7 170.1L488.1 169.9L488.6 170.1L489.0 170.6L489.5 169.8L489.9 169.7L490.4 169.4L490.8 169.0L491.3 168.8L491.7 169.2L492.2 169.5L492.6 169.3L493.1 168.9L493.5 168.6L494.0 168.5L494.4 167.8L494.9 165.2L495.3 161.4L495.7 158.6L496.2 158.4L496.6 161.6L497.1 165.2L497.5 166.2L498.0 166.0L498.4 166.2L498.9 165.8L499.3 166.3L499.8 166.1L500.2 165.4L500.7 165.3L501.1 165.1L501.6 165.5L502.0 165.3L502.5 165.1L502.9 165.2L503.4 164.8L503.8 164.6L504.3 163.9L504.7 163.8L505.2 163.8L505.6 163.9L506.1 163.6L506.5 162.5L507.0 162.5L507.4 162.1L507.9 161.6L508.3 160.7L508.8 159.8L509.2 159.4L509.7 158.8L510.1 159.3L510.6 159.6L511.0 158.8L511.5 159.2L511.9 159.1L512.4 159.7L512.8 160.5L513.3 161.1L513.7 161.9L514.2 161.8L514.6 162.6L515.1 163.7L515.5 164.5L516.0 165.3L516.4 166.4L516.9 166.3L517.3 166.9L517.8 167.1L518.2 168.0L518.7 168.3L519.1 169.0L519.6 169.7L520.0 169.0L520.4 168.9L520.9 169.5L521.3 169.0L521.8 168.9L522.2 169.3L522.7 169.0L523.1 168.3L523.6 168.3L524.0 167.5L524.5 167.6L524.9 167.1L525.4 166.0L525.8 165.6L526.3 164.7L526.7 163.1L527.2 162.1L527.6 160.7L528.1 159.9L528.5 158.9L529.0 157.6L529.4 156.7L529.9 154.8L530.3 154.4L530.8 153.6L531.2 153.6L531.7 153.1L532.1 153.1L532.6 153.3L533.0 154.1L533.5 154.8L533.9 154.8L534.4 155.9L534.8 157.0L535.3 158.0L535.7 158.9L536.2 159.7L536.6 160.6L537.1 160.5L537.5 161.0L538.0 161.4L538.4 160.8L538.9 161.0L539.3 160.5L539.8 159.2L540.2 158.8L540.7 157.5L541.1 155.8L541.6 154.3L542.0 153.6L542.5 152.2L542.9 150.4L543.4 149.4L543.8 147.7L544.3 147.4L544.7 146.1L545.1 145.9L545.6 146.2L546.0 146.3L546.5 147.0L546.9 147.1L547.4 148.3L547.8 148.8L548.3 150.1L548.7 151.6L549.2 153.2L549.6 154.2L550.1 155.7L550.5 156.3L551.0 157.9L551.4 158.7L551.9 159.4L552.3 160.4L552.8 160.6L553.2 161.3L553.7 161.5L554.1 161.9L554.6 162.4L555.0 162.7L555.5 163.2L555.9 163.3L556.4 162.7L556.8 163.0L557.3 162.8L557.7 163.2L558.2 162.7L558.6 162.4L559.1 161.4L559.5 160.2L560.0 158.5L560.4 155.8L560.9 153.0L561.3 150.3L561.8 147.5L562.2 146.6L562.7 146.8L563.1 147.5L563.6 149.6L564.0 151.6L564.5 153.5L564.9 155.4L565.4 156.0L565.8 156.5L566.3 156.0L566.7 156.2L567.2 157.4L567.6 158.8L568.1 160.2L568.5 161.7L569.0 163.5L569.4 164.1L569.8 165.3L570.3 165.6L570.7 166.4L571.2 166.9L571.6 166.3L572.1 166.3L572.5 166.4L573.0 167.3L573.4 167.8L573.9 167.9L574.3 168.0L574.8 168.0L575.2 168.0L575.7 168.4L576.1 168.3L576.6 168.0L577.0 168.3L577.5 167.5L577.9 167.1L578.4 166.1L578.8 165.3L579.3 163.8L579.7 162.0L580.2 161.0L580.6 160.9L581.1 160.4L581.5 161.2L582.0 163.3L582.4 165.5L582.9 166.5L583.3 167.8L583.8 169.3L584.2 169.9L584.7 170.4L585.1 169.8L585.6 170.3L586.0 169.6L586.5 169.4L586.9 169.9L587.4 169.3L587.8 169.0L588.3 168.1L588.7 167.1L589.2 166.6L589.6 165.8L590.1 163.7L590.5 162.4L591.0 160.4L591.4 158.8L591.9 157.2L592.3 155.7L592.8 154.7L593.2 154.1L593.7 154.2L594.1 153.7L594.6 154.2L595.0 154.9L595.4 155.5L595.9 157.6L596.3 158.6L596.8 160.7L597.2 161.6L597.7 162.6L598.1 164.2L598.6 165.0L599.0 165.3L599.5 166.2L599.9 167.0L600.4 168.0L600.8 169.1L601.3 169.6L601.7 170.3L602.2 171.3L602.6 172.0L603.1 172.9L603.5 173.1L604.0 173.6L604.4 174.5L604.9 175.1L605.3 175.3L605.8 175.5L606.2 175.2L606.7 175.8L607.1 176.2L607.6 175.7L608.0 176.4L608.5 176.3L608.9 176.5L609.4 176.1L609.8 176.2L610.3 176.1L610.7 176.7L611.2 176.4L611.6 176.4L612.1 176.5L612.5 176.3L613.0 176.1L613.4 176.8L613.9 177.0L614.3 176.9L614.8 177.1L615.2 177.3L615.7 177.2L616.1 177.2L616.6 176.7L617.0 176.8L617.5 177.2L617.9 177.1L618.4 176.9L618.8 177.0L619.3 177.2L619.7 177.4L620.1 177.6L620.6 176.6L621.0 176.4L621.5 177.1L621.9 176.7L622.4 176.2L622.8 176.5L623.3 177.1L623.7 176.9L624.2 176.9L624.6 177.2L625.1 176.9L625.5 177.4L626.0 176.6L626.4 176.6L626.9 176.6L627.3 176.3L627.8 176.4L628.2 177.0L628.7 177.2L629.1 177.4L629.6 177.6L630.0 176.8L630.5 176.5L630.9 176.9L631.4 177.2L631.8 176.9L632.3 176.5L632.7 176.2L633.2 177.0L633.6 176.6L634.1 176.4L634.5 176.4L635.0 176.9L635.4 177.2L635.9 176.7L636.3 177.0L636.8 177.1L637.2 176.9L637.7 177.1L638.1 176.6L638.6 177.1L639.0 177.5L639.5 177.1L639.9 176.8L640.4 176.5L640.8 176.5L641.3 176.3L641.7 176.2L642.2 176.6L642.6 176.8L643.1 177.3L643.5 177.3L644.0 177.0L644.4 177.4L644.8 176.9L645.3 177.3L645.7 177.2L646.2 176.5L646.6 177.2L647.1 177.6L647.5 177.3L648.0 177.4L648.4 176.9L648.9 177.5L649.3 176.8L649.8 176.5L650.2 176.5L650.7 176.9L651.1 177.2L651.6 176.9L652.0 176.9L652.5 177.0L652.9 177.2L653.4 177.1L653.8 176.8L654.3 176.5L654.7 176.3L655.2 177.0L655.6 177.2L656.1 177.0L656.5 176.8L657.0 177.0L657.4 177.2L657.9 177.3L658.3 177.1L658.8 176.8L659.2 176.0L659.7 175.7L660.1 175.6L660.6 175.3L661.0 175.1L661.5 175.3L661.9 175.1L662.4 175.7L662.8 175.1L663.3 174.8L663.7 174.8L664.2 174.4L664.6 173.6L665.1 173.7L665.5 173.3L666.0 173.4L666.4 173.2L666.9 172.4L667.3 172.9L667.8 172.8L668.2 172.1L668.7 172.0L669.1 172.2L669.5 171.6L670.0 171.7L670.4 171.5L670.9 171.6L671.3 171.5L671.8 171.5L672.2 171.8L672.7 172.3L673.1 172.6L673.6 172.0L674.0 172.3L674.5 173.1L674.9 172.7L675.4 173.4L675.8 174.1L676.3 174.0L676.7 174.5L677.2 174.5L677.6 174.7L678.1 175.2L678.5 175.2L679.0 175.8L679.4 175.8L679.9 175.8L680.3 176.5L680.8 176.5L681.2 176.9L681.7 176.7L682.1 176.3L682.6 176.5L683.0 176.5L683.5 176.4L683.9 177.2L684.4 176.5L684.8 176.6L685.3 177.3L685.7 176.8L686.2 177.1L686.6 177.5L687.1 176.8L687.5 176.9L688.0 176.8L688.4 177.4L688.9 177.0L689.3 177.6L689.8 177.7L690.2 177.5L690.7 177.9L691.1 177.4L691.6 177.6L692.0 177.6L692.5 177.1L692.9 177.3L693.4 176.8L693.8 176.9L694.3 176.7L694.7 177.0L695.1 176.7L695.6 176.6L696.0 177.4L696.5 177.0L696.9 177.3L697.4 177.0L697.8 177.0L698.3 176.8L698.7 177.5L699.2 177.5L699.6 177.1L700.1 176.7L700.5 176.8L701.0 177.6L701.4 177.3L701.9 177.7L702.3 177.4L702.8 177.0L703.2 177.6L703.7 177.0L704.1 177.0L704.6 177.4L705.0 177.7L705.5 177.5L705.9 177.0L706.4 177.1L706.8 177.6L707.3 178.0L707.7 178.0L708.2 177.2L708.6 177.6L709.1 177.4L709.5 177.6L710.0 177.2L710.4 177.4L710.9 177.7L711.3 177.1L711.8 177.2L712.2 177.0L712.7 176.9L713.1 176.6L713.6 177.6L714.0 177.6L714.5 177.8L714.9 177.5L715.4 177.0L715.8 176.8L716.3 177.6L716.7 177.8L717.2 177.1L717.6 177.0L718.1 177.3L718.5 177.3L719.0 177.7L719.4 177.1L719.8 177.3L720.3 176.9L720.7 177.0L721.2 177.7L721.6 177.6L722.1 177.7L722.5 177.0L723.0 177.1L723.4 177.7L723.9 177.8L724.3 177.7L724.8 177.5L725.2 177.3L725.7 177.4L726.1 177.5L726.6 177.9L727.0 177.5L727.5 177.5L727.9 177.9L728.4 177.6L728.8 176.9L729.3 177.6L729.7 177.8L730.2 177.3L730.6 177.6L731.1 177.7L731.5 177.4L732.0 177.6L732.4 177.4L732.9 177.3L733.3 176.8L733.8 176.6L734.2 177.5L734.7 177.3L735.1 177.0L735.6 176.8L736.0 176.8L736.5 176.9L736.9 177.0L737.4 177.3L737.8 177.6L738.3 177.1L738.7 176.8L739.2 176.6L739.6 176.8L740.1 177.3L740.5 177.0L741.0 176.9L741.4 177.1L741.9 177.1L742.3 177.4L742.8 177.3L743.2 177.4L743.7 177.8L744.1 177.7L744.5 177.6L745.0 176.9L745.4 177.2L745.9 177.4L746.3 177.6L746.8 177.7L747.2 177.6L747.7 177.8L748.1 178.0L748.6 177.1L749.0 177.2L749.5 177.2L749.9 176.9L750.4 177.0L750.8 176.9L751.3 176.8L751.7 176.2L752.2 175.6L752.6 174.6L753.1 174.1L753.5 173.3L754.0 173.4L754.4 172.8L754.9 173.1L755.3 173.9L755.8 174.4L756.2 174.5L756.7 174.4L757.1 175.3L757.6 175.5L758.0 176.2L758.5 176.2L758.9 177.1L759.4 177.1L759.8 176.7L760.3 177.3L760.7 177.5L761.2 177.9L761.6 177.9L762.1 177.8L762.5 177.3L763.0 177.6L763.4 177.5L763.9 177.7L764.3 177.3L764.8 176.9L765.2 177.0L765.7 177.5L766.1 177.1L766.6 176.6L767.0 176.9L767.5 177.5L767.9 176.9L768.4 176.5L768.8 176.9L769.3 177.2L769.7 177.0L770.1 176.1L770.6 174.8L771.0 173.8L771.5 172.3L771.9 171.5L772.4 169.9L772.8 167.6L773.3 165.4L773.7 163.2L774.2 160.2L774.6 157.4L775.1 154.5L775.5 150.5L776.0 146.7L776.4 141.8L776.9 137.2L777.3 132.0L777.8 126.5L778.2 121.3L778.7 115.4L779.1 110.0L779.6 103.3L780.0 97.5L780.5 91.3L780.9 86.7L781.4 81.2L781.8 76.1L782.3 72.0L782.7 68.6L783.2 65.3L783.6 62.7L784.1 62.5L784.5 65.1L785.0 66.9L785.4 69.9L785.9 73.0L786.3 76.4L786.8 80.1L787.2 83.9L787.7 88.0L788.1 92.6L788.6 96.7L789.0 101.6L789.5 105.8L789.9 110.1L790.4 114.5L790.8 119.5L791.3 123.5L791.7 127.3L792.2 131.8L792.6 136.1L793.1 139.7L793.5 142.7L794.0 146.8L794.4 150.3L794.8 152.9L795.3 155.3L795.7 157.6L796.2 160.2L796.6 161.8L797.1 164.4L797.5 165.7L798.0 167.8L798.4 169.3L798.9 170.2L799.3 170.9L799.8 170.7L800.2 170.4L800.7 170.3L801.1 169.0L801.6 168.6L802.0 168.4L802.5 168.0L802.9 167.3L803.4 167.2L803.8 168.7L804.3 170.2L804.7 170.9L805.2 172.5L805.6 173.1L806.1 174.5L806.5 175.3L807.0 176.2L807.4 176.3L807.9 176.8L808.3 177.2L808.8 176.8L809.2 177.5L809.7 177.1L810.1 177.7L810.6 177.3L811.0 177.4L811.5 176.9L811.9 177.6L812.4 177.3L812.8 177.4L813.3 176.9L813.7 176.6L814.2 176.9L814.6 177.4L815.1 177.6L815.5 177.6L816.0 177.4L816.4 177.6L816.9 177.6L817.3 177.0L817.8 176.9L818.2 177.2L818.7 176.5L819.1 177.0L819.5 176.8L820.0 177.1L820.4 176.4L820.9 176.1L821.3 176.5L821.8 176.1L822.2 175.8L822.7 176.2L823.1 176.2L823.6 175.9L824.0 175.2L824.5 175.6L824.9 175.1L825.4 174.9L825.8 174.8L826.3 174.5L826.7 174.0L827.2 174.4L827.6 173.7L828.1 173.8L828.5 173.4L829.0 173.0L829.4 173.5L829.9 172.8L830.3 172.4L830.8 172.9L831.2 173.4L831.7 173.5L832.1 172.5L832.6 173.2L833.0 172.5L833.5 173.1L833.9 172.8L834.4 173.4L834.8 173.7L835.3 173.3L835.7 173.9L836.2 174.0L836.6 173.5L837.1 173.6L837.5 173.6L838.0 173.6L838.4 174.8L838.9 175.2L839.3 174.8L839.8 174.9L840.2 175.8L840.7 175.7L841.1 176.1L841.6 176.1L842.0 176.6L842.5 176.9L842.9 176.1L843.4 176.6L843.8 176.2L844.2 176.9L844.7 176.9L845.1 177.3L845.6 177.2L846.0 177.4L846.5 177.0L846.9 177.4L847.4 177.0"/><path d="M405.0 187.7L405.5 188.1L405.9 188.0L406.4 187.9L406.8 187.3L407.3 187.7L407.7 188.0L408.2 187.3L408.6 187.2L409.1 187.2L409.5 187.8L410.0 188.1L410.4 188.1L410.9 188.4L411.3 188.5L411.8 188.0L412.2 188.0L412.7 187.8L413.1 187.9L413.6 188.4L414.0 187.8L414.5 187.6L414.9 187.6L415.4 187.7L415.8 187.5L416.3 187.1L416.7 187.1L417.2 187.2L417.6 187.6L418.1 187.9L418.5 187.9L419.0 187.2L419.4 187.6L419.9 187.7L420.3 187.7L420.7 188.0L421.2 187.1L421.6 187.8L422.1 187.4L422.5 186.8L423.0 187.3L423.4 187.0L423.9 187.0L424.3 187.1L424.8 187.1L425.2 187.1L425.7 186.2L426.1 185.8L426.6 185.5L427.0 186.2L427.5 185.7L427.9 185.8L428.4 185.4L428.8 185.3L429.3 185.5L429.7 184.9L430.2 185.7L430.6 185.2L431.1 184.9L431.5 185.2L432.0 185.3L432.4 184.9L432.9 185.7L433.3 185.6L433.8 185.6L434.2 186.1L434.7 186.0L435.1 186.4L435.6 186.5L436.0 186.6L436.5 186.6L436.9 187.1L437.4 187.0L437.8 187.1L438.3 187.6L438.7 187.4L439.2 187.8L439.6 187.2L440.1 187.5L440.5 187.4L441.0 187.6L441.4 187.8L441.9 188.1L442.3 188.4L442.8 187.6L443.2 187.8L443.7 187.8L444.1 187.9L444.6 187.6L445.0 188.1L445.4 188.4L445.9 187.8L446.3 187.9L446.8 187.8L447.2 187.5L447.7 187.4L448.1 187.3L448.6 188.2L449.0 188.2L449.5 187.7L449.9 187.5L450.4 188.1L450.8 188.2L451.3 187.8L451.7 187.4L452.2 186.2L452.6 184.6L453.1 183.8L453.5 183.4L454.0 183.9L454.4 184.4L454.9 184.7L455.3 185.8L455.8 186.8L456.2 187.4L456.7 187.4L457.1 187.4L457.6 188.0L458.0 187.6L458.5 187.7L458.9 187.4L459.4 187.4L459.8 187.0L460.3 186.4L460.7 184.6L461.2 181.2L461.6 176.0L462.1 172.8L462.5 175.2L463.0 179.6L463.4 182.1L463.9 183.4L464.3 183.6L464.8 183.7L465.2 183.0L465.7 183.5L466.1 183.1L466.6 182.7L467.0 183.2L467.5 183.2L467.9 182.7L468.4 182.7L468.8 182.9L469.3 183.3L469.7 183.0L470.1 182.9L470.6 182.4L471.0 182.6L471.5 182.5L471.9 182.2L472.4 181.9L472.8 182.3L473.3 182.5L473.7 182.4L474.2 182.1L474.6 182.8L475.1 182.3L475.5 182.4L476.0 182.8L476.4 182.7L476.9 182.9L477.3 183.2L477.8 182.4L478.2 182.2L478.7 181.8L479.1 181.5L479.6 180.8L480.0 180.7L480.5 181.6L480.9 181.5L481.4 181.9L481.8 182.2L482.3 182.1L482.7 182.7L483.2 182.9L483.6 182.6L484.1 182.9L484.5 183.0L485.0 183.0L485.4 182.6L485.9 182.6L486.3 182.5L486.8 182.8L487.2 183.3L487.7 182.7L488.1 182.6L488.6 182.2L489.0 182.0L489.5 182.6L489.9 182.6L490.4 182.7L490.8 181.8L491.3 182.1L491.7 182.2L492.2 181.3L492.6 181.1L493.1 181.4L493.5 180.7L494.0 180.1L494.4 179.4L494.9 177.8L495.3 173.6L495.7 170.8L496.2 171.0L496.6 173.6L497.1 176.4L497.5 177.6L498.0 178.5L498.4 178.5L498.9 178.2L499.3 178.6L499.8 177.6L500.2 177.9L500.7 178.0L501.1 177.9L501.6 177.9L502.0 177.2L502.5 177.2L502.9 177.1L503.4 177.1L503.8 177.4L504.3 177.0L504.7 176.1L505.2 175.6L505.6 175.1L506.1 175.3L506.5 175.1L507.0 174.9L507.4 174.0L507.9 173.4L508.3 172.8L508.8 172.3L509.2 171.7L509.7 171.6L510.1 170.9L510.6 171.3L511.0 170.7L511.5 171.0L511.9 171.8L512.4 172.2L512.8 172.4L513.3 173.0L513.7 173.5L514.2 174.4L514.6 175.3L515.1 175.6L515.5 176.7L516.0 177.1L516.4 177.6L516.9 178.4L517.3 179.3L517.8 179.3L518.2 180.2L518.7 180.2L519.1 181.3L519.6 181.5L520.0 181.4L520.4 182.1L520.9 181.5L521.3 182.1L521.8 181.7L522.2 181.9L522.7 181.0L523.1 180.9L523.6 180.3L524.0 180.1L524.5 179.5L524.9 178.9L525.4 178.5L525.8 177.9L526.3 176.4L526.7 175.9L527.2 174.1L527.6 173.4L528.1 172.5L528.5 171.4L529.0 169.5L529.4 167.9L529.9 167.3L530.3 166.3L530.8 166.0L531.2 165.0L531.7 164.8L532.1 165.4L532.6 165.9L533.0 165.8L533.5 166.9L533.9 166.9L534.4 168.1L534.8 169.2L535.3 169.8L535.7 170.9L536.2 171.5L536.6 172.5L537.1 172.3L537.5 173.1L538.0 172.8L538.4 173.3L538.9 172.6L539.3 171.7L539.8 171.4L540.2 171.1L540.7 169.9L541.1 168.3L541.6 167.3L542.0 165.6L542.5 164.6L542.9 163.0L543.4 161.3L543.8 160.4L544.3 159.3L544.7 159.1L545.1 158.1L545.6 158.5L546.0 158.0L546.5 158.0L546.9 158.6L547.4 159.9L547.8 161.4L548.3 162.7L548.7 163.6L549.2 165.0L549.6 165.8L550.1 167.8L550.5 168.9L551.0 169.5L551.4 170.6L551.9 171.5L552.3 172.8L552.8 173.5L553.2 173.9L553.7 173.6L554.1 173.7L554.6 174.6L555.0 174.2L555.5 175.2L555.9 175.0L556.4 174.5L556.8 175.1L557.3 174.6L557.7 174.7L558.2 175.2L558.6 174.7L559.1 173.7L559.5 172.5L560.0 170.0L560.4 167.9L560.9 164.5L561.3 162.0L561.8 160.2L562.2 158.7L562.7 159.3L563.1 160.3L563.6 161.9L564.0 164.2L564.5 166.3L564.9 168.0L565.4 168.1L565.8 168.5L566.3 168.1L566.7 169.0L567.2 169.6L567.6 171.1L568.1 172.7L568.5 174.1L569.0 175.9L569.4 177.2L569.8 177.1L570.3 178.0L570.7 177.9L571.2 178.0L571.6 178.5L572.1 179.2L572.5 179.6L573.0 179.0L573.4 179.7L573.9 179.6L574.3 179.6L574.8 180.1L575.2 180.1L575.7 180.4L576.1 180.2L576.6 180.2L577.0 180.3L577.5 180.3L577.9 179.7L578.4 179.0L578.8 178.0L579.3 176.4L579.7 174.1L580.2 173.0L580.6 172.0L581.1 173.1L581.5 173.4L582.0 175.3L582.4 176.8L582.9 178.6L583.3 179.9L583.8 181.2L584.2 181.4L584.7 182.3L585.1 182.5L585.6 182.8L586.0 182.5L586.5 182.2L586.9 182.1L587.4 181.2L587.8 181.4L588.3 180.6L588.7 180.0L589.2 178.8L589.6 177.2L590.1 175.8L590.5 175.0L591.0 173.5L591.4 171.5L591.9 169.3L592.3 168.7L592.8 167.2L593.2 166.2L593.7 165.5L594.1 165.9L594.6 166.0L595.0 167.0L595.4 167.7L595.9 169.9L596.3 170.6L596.8 172.4L597.2 173.9L597.7 175.6L598.1 176.7L598.6 177.1L599.0 177.8L599.5 179.0L599.9 179.7L600.4 180.6L600.8 181.3L601.3 182.0L601.7 182.6L602.2 182.7L602.6 183.1L603.1 184.0L603.5 185.1L604.0 185.9L604.4 186.2L604.9 186.4L605.3 186.8L605.8 187.3L606.2 188.0L606.7 188.0L607.1 187.8L607.6 187.8L608.0 188.6L608.5 188.3L608.9 188.6L609.4 189.0L609.8 188.2L610.3 188.3L610.7 188.3L611.2 188.9L611.6 188.5L612.1 188.2L612.5 188.1L613.0 188.3L613.4 188.2L613.9 188.3L614.3 188.5L614.8 188.8L615.2 188.5L615.7 188.4L616.1 188.3L616.6 188.9L617.0 188.4L617.5 188.7L617.9 188.4L618.4 189.1L618.8 188.5L619.3 188.5L619.7 189.0L620.1 188.6L620.6 189.1L621.0 189.4L621.5 189.2L621.9 189.4L622.4 189.2L622.8 188.6L623.3 188.6L623.7 188.6L624.2 189.0L624.6 188.7L625.1 188.6L625.5 188.6L626.0 188.4L626.4 188.4L626.9 188.9L627.3 189.4L627.8 189.0L628.2 188.7L628.7 189.1L629.1 189.0L629.6 188.6L630.0 188.6L630.5 189.4L630.9 189.2L631.4 189.7L631.8 189.7L632.3 189.0L632.7 189.1L633.2 189.0L633.6 189.1L634.1 189.3L634.5 189.5L635.0 189.4L635.4 188.8L635.9 188.9L636.3 189.2L636.8 189.6L637.2 189.6L637.7 189.1L638.1 189.2L638.6 188.9L639.0 188.7L639.5 189.4L639.9 189.0L640.4 189.6L640.8 189.0L641.3 189.4L641.7 189.5L642.2 188.8L642.6 189.1L643.1 189.4L643.5 188.8L644.0 188.9L644.4 188.6L644.8 189.0L645.3 189.1L645.7 188.6L646.2 188.9L646.6 188.5L647.1 189.3L647.5 188.8L648.0 189.4L648.4 189.2L648.9 189.7L649.3 189.8L649.8 188.9L650.2 189.1L650.7 188.8L651.1 189.3L651.6 189.4L652.0 189.7L652.5 189.3L652.9 188.8L653.4 189.0L653.8 189.2L654.3 188.7L654.7 188.5L655.2 188.7L655.6 189.4L656.1 189.1L656.5 189.1L657.0 188.6L657.4 189.0L657.9 188.8L658.3 188.7L658.8 188.9L659.2 188.8L659.7 188.6L660.1 188.1L660.6 188.4L661.0 188.5L661.5 187.8L661.9 188.5L662.4 187.8L662.8 187.6L663.3 187.5L663.7 187.5L664.2 187.1L664.6 186.6L665.1 186.5L665.5 186.3L666.0 186.9L666.4 186.7L666.9 186.7L667.3 185.7L667.8 185.3L668.2 185.9L668.7 185.6L669.1 185.4L669.5 185.9L670.0 185.6L670.4 185.2L670.9 185.1L671.3 185.5L671.8 185.2L672.2 185.6L672.7 185.6L673.1 185.8L673.6 185.3L674.0 185.6L674.5 185.7L674.9 186.0L675.4 186.5L675.8 186.3L676.3 186.5L676.7 186.8L677.2 187.5L677.6 188.0L678.1 187.8L678.5 187.6L679.0 187.7L679.4 188.2L679.9 188.8L680.3 188.7L680.8 188.3L681.2 189.0L681.7 188.7L682.1 189.2L682.6 189.3L683.0 189.7L683.5 189.6L683.9 189.5L684.4 188.8L684.8 188.6L685.3 189.4L685.7 189.5L686.2 188.9L686.6 189.5L687.1 189.6L687.5 189.5L688.0 189.9L688.4 189.9L688.9 189.7L689.3 189.6L689.8 189.0L690.2 189.5L690.7 189.8L691.1 189.1L691.6 189.4L692.0 189.0L692.5 189.1L692.9 189.0L693.4 189.5L693.8 189.8L694.3 189.3L694.7 189.4L695.1 189.4L695.6 189.2L696.0 189.1L696.5 189.6L696.9 189.6L697.4 189.1L697.8 189.3L698.3 189.6L698.7 189.4L699.2 189.7L699.6 189.3L700.1 189.9L700.5 189.3L701.0 189.3L701.4 189.6L701.9 189.0L702.3 189.6L702.8 189.8L703.2 190.1L703.7 189.7L704.1 189.3L704.6 189.2L705.0 189.5L705.5 189.2L705.9 189.8L706.4 189.8L706.8 189.5L707.3 189.0L707.7 189.1L708.2 189.1L708.6 189.1L709.1 189.4L709.5 189.0L710.0 189.0L710.4 189.5L710.9 189.6L711.3 189.2L711.8 189.5L712.2 189.9L712.7 189.2L713.1 189.4L713.6 189.4L714.0 189.3L714.5 189.0L714.9 189.7L715.4 189.8L715.8 190.1L716.3 189.8L716.7 189.6L717.2 189.2L717.6 189.2L718.1 189.3L718.5 189.5L719.0 189.4L719.4 189.7L719.8 189.2L720.3 189.1L720.7 189.0L721.2 189.7L721.6 189.4L722.1 189.2L722.5 189.4L723.0 189.0L723.4 188.9L723.9 189.0L724.3 188.9L724.8 189.1L725.2 188.9L725.7 189.7L726.1 189.3L726.6 189.2L727.0 189.3L727.5 189.7L727.9 190.0L728.4 189.6L728.8 189.2L729.3 189.6L729.7 189.9L730.2 189.9L730.6 190.1L731.1 189.6L731.5 189.0L732.0 189.0L732.4 189.4L732.9 189.3L733.3 189.9L733.8 189.3L734.2 189.6L734.7 190.1L735.1 189.6L735.6 189.9L736.0 189.9L736.5 190.2L736.9 189.8L737.4 189.6L737.8 189.2L738.3 189.9L738.7 189.3L739.2 189.8L739.6 189.9L740.1 189.5L740.5 189.7L741.0 189.8L741.4 189.5L741.9 189.8L742.3 189.3L742.8 189.7L743.2 189.2L743.7 189.0L744.1 189.3L744.5 189.9L745.0 189.4L745.4 190.0L745.9 189.7L746.3 189.7L746.8 190.0L747.2 189.6L747.7 189.3L748.1 189.3L748.6 189.5L749.0 189.4L749.5 189.2L749.9 189.4L750.4 188.7L750.8 188.0L751.3 187.7L751.7 187.2L752.2 187.3L752.6 186.3L753.1 186.6L753.5 186.1L754.0 186.1L754.4 185.7L754.9 185.4L755.3 185.5L755.8 186.0L756.2 186.7L756.7 187.5L757.1 187.9L757.6 188.4L758.0 188.9L758.5 188.7L758.9 189.0L759.4 189.3L759.8 189.7L760.3 189.3L760.7 189.7L761.2 189.8L761.6 189.6L762.1 189.3L762.5 188.9L763.0 189.0L763.4 188.8L763.9 188.8L764.3 188.9L764.8 189.0L765.2 189.8L765.7 189.9L766.1 190.2L766.6 189.3L767.0 189.1L767.5 189.1L767.9 189.5L768.4 189.4L768.8 189.6L769.3 189.0L769.7 188.2L770.1 188.2L770.6 187.8L771.0 186.9L771.5 185.4L771.9 183.3L772.4 181.5L772.8 179.8L773.3 178.2L773.7 175.9L774.2 173.2L774.6 169.5L775.1 166.1L775.5 161.9L776.0 157.7L776.4 153.3L776.9 149.0L777.3 143.7L777.8 139.0L778.2 133.7L778.7 127.6L779.1 121.7L779.6 116.1L780.0 110.3L780.5 104.8L780.9 98.4L781.4 93.1L781.8 87.9L782.3 83.4L782.7 80.0L783.2 76.6L783.6 74.3L784.1 74.4L784.5 76.3L785.0 79.5L785.4 82.7L785.9 85.8L786.3 88.8L786.8 92.6L787.2 96.9L787.7 100.3L788.1 104.4L788.6 109.0L789.0 114.1L789.5 117.9L789.9 122.5L790.4 127.6L790.8 132.0L791.3 136.0L791.7 139.8L792.2 144.1L792.6 147.9L793.1 152.1L793.5 155.8L794.0 158.5L794.4 161.9L794.8 165.3L795.3 167.6L795.7 170.5L796.2 172.9L796.6 174.8L797.1 176.5L797.5 178.0L798.0 179.4L798.4 180.8L798.9 182.2L799.3 182.3L799.8 183.1L800.2 182.7L800.7 182.3L801.1 181.4L801.6 180.5L802.0 180.4L802.5 179.6L802.9 179.3L803.4 179.8L803.8 181.0L804.3 181.5L804.7 182.9L805.2 184.9L805.6 186.2L806.1 186.5L806.5 187.9L807.0 188.5L807.4 188.6L807.9 188.6L808.3 188.9L808.8 189.0L809.2 189.8L809.7 190.1L810.1 189.2L810.6 189.0L811.0 189.8L811.5 190.1L811.9 190.0L812.4 189.2L812.8 189.7L813.3 189.4L813.7 188.9L814.2 189.1L814.6 188.8L815.1 189.5L815.5 189.8L816.0 190.1L816.4 189.4L816.9 189.8L817.3 189.0L817.8 188.9L818.2 189.4L818.7 188.9L819.1 189.4L819.5 189.1L820.0 189.4L820.4 188.8L820.9 188.3L821.3 188.0L821.8 188.9L822.2 188.2L822.7 188.1L823.1 187.7L823.6 187.8L824.0 187.6L824.5 187.4L824.9 187.0L825.4 187.5L825.8 187.7L826.3 187.0L826.7 186.9L827.2 186.7L827.6 186.9L828.1 186.0L828.5 186.4L829.0 185.5L829.4 185.1L829.9 185.3L830.3 185.6L830.8 185.1L831.2 185.4L831.7 185.2L832.1 185.5L832.6 184.7L833.0 184.8L833.5 185.2L833.9 185.6L834.4 185.2L834.8 184.9L835.3 184.9L835.7 185.9L836.2 186.0L836.6 186.3L837.1 186.0L837.5 186.7L838.0 186.6L838.4 186.2L838.9 186.5L839.3 187.5L839.8 188.0L840.2 188.2L840.7 187.8L841.1 187.8L841.6 188.0L842.0 188.3L842.5 188.5L842.9 188.4L843.4 188.5L843.8 188.2L844.2 188.4L844.7 188.4L845.1 188.4L845.6 188.5L846.0 188.7L846.5 189.5L846.9 189.2L847.4 188.9"/><path d="M405.0 201.6L405.5 201.1L405.9 201.7L406.4 201.1L406.8 201.4L407.3 201.3L407.7 201.7L408.2 201.8L408.6 201.8L409.1 201.8L409.5 202.1L410.0 201.8L410.4 201.1L410.9 201.2L411.3 200.9L411.8 201.0L412.2 201.0L412.7 200.8L413.1 201.0L413.6 201.6L414.0 201.8L414.5 201.8L414.9 202.2L415.4 202.1L415.8 201.3L416.3 201.0L416.7 201.5L417.2 201.2L417.6 201.1L418.1 200.9L418.5 200.9L419.0 201.2L419.4 201.8L419.9 201.2L420.3 201.5L420.7 201.3L421.2 201.4L421.6 201.2L422.1 200.6L422.5 201.2L423.0 201.0L423.4 200.7L423.9 200.6L424.3 200.1L424.8 200.4L425.2 199.8L425.7 199.8L426.1 199.3L426.6 200.0L427.0 200.1L427.5 200.0L427.9 199.2L428.4 199.8L428.8 199.7L429.3 199.1L429.7 198.5L430.2 199.2L430.6 199.2L431.1 198.9L431.5 198.9L432.0 198.8L432.4 198.9L432.9 199.5L433.3 199.9L433.8 200.4L434.2 199.9L434.7 200.4L435.1 200.6L435.6 200.0L436.0 200.2L436.5 200.4L436.9 200.5L437.4 200.7L437.8 200.7L438.3 201.2L438.7 201.7L439.2 202.0L439.6 202.2L440.1 201.9L440.5 202.1L441.0 202.2L441.4 201.9L441.9 201.2L442.3 201.3L442.8 201.8L443.2 201.4L443.7 202.0L444.1 202.3L444.6 202.2L445.0 202.0L445.4 201.6L445.9 201.8L446.3 201.5L446.8 202.1L447.2 201.4L447.7 201.8L448.1 201.4L448.6 202.1L449.0 201.6L449.5 202.0L449.9 201.4L450.4 201.2L450.8 201.1L451.3 201.2L451.7 201.1L452.2 200.2L452.6 198.4L453.1 197.9L453.5 197.1L454.0 197.1L454.4 197.7L454.9 199.2L455.3 200.4L455.8 201.4L456.2 201.0L456.7 201.5L457.1 201.4L457.6 201.4L458.0 201.7L458.5 201.9L458.9 201.9L459.4 200.8L459.8 200.9L460.3 199.5L460.7 198.2L461.2 194.1L461.6 189.5L462.1 186.2L462.5 188.6L463.0 193.0L463.4 196.0L463.9 197.4L464.3 197.6L464.8 197.0L465.2 197.2L465.7 197.2L466.1 196.7L466.6 197.1L467.0 197.3L467.5 197.3L467.9 197.1L468.4 197.0L468.8 196.6L469.3 196.6L469.7 196.1L470.1 196.7L470.6 196.3L471.0 195.8L471.5 196.3L471.9 196.7L472.4 196.4L472.8 196.7L473.3 196.4L473.7 196.1L474.2 196.7L474.6 197.0L475.1 196.8L475.5 197.1L476.0 197.1L476.4 196.9L476.9 197.1L477.3 197.2L477.8 196.7L478.2 196.1L478.7 195.2L479.1 195.0L479.6 195.4L480.0 195.4L480.5 194.9L480.9 195.2L481.4 195.2L481.8 195.3L482.3 195.6L482.7 196.7L483.2 196.3L483.6 196.6L484.1 197.0L484.5 197.3L485.0 196.6L485.4 197.0L485.9 197.3L486.3 197.2L486.8 196.4L487.2 196.5L487.7 196.2L488.1 196.8L488.6 196.6L489.0 196.5L489.5 196.6L489.9 196.0L490.4 196.0L490.8 196.2L491.3 195.2L491.7 195.2L492.2 195.5L492.6 195.6L493.1 194.8L493.5 194.5L494.0 194.7L494.4 193.5L494.9 190.9L495.3 187.4L495.7 184.7L496.2 185.0L496.6 187.9L497.1 190.6L497.5 192.3L498.0 192.0L498.4 191.5L498.9 191.5L499.3 191.2L499.8 191.6L500.2 191.1L500.7 191.6L501.1 191.8L501.6 191.3L502.0 190.8L502.5 191.4L502.9 191.4L503.4 191.5L503.8 191.0L504.3 191.0L504.7 190.7L505.2 189.8L505.6 189.3L506.1 188.5L506.5 188.5L507.0 187.8L507.4 188.0L507.9 186.7L508.3 186.7L508.8 186.1L509.2 185.6L509.7 184.8L510.1 184.8L510.6 184.3L511.0 184.5L511.5 185.1L511.9 184.9L512.4 185.8L512.8 185.6L513.3 186.5L513.7 187.6L514.2 187.6L514.6 188.8L515.1 189.7L515.5 190.6L516.0 191.0L516.4 192.3L516.9 192.8L517.3 193.6L517.8 193.5L518.2 194.6L518.7 194.6L519.1 195.1L519.6 195.3L520.0 195.3L520.4 195.2L520.9 195.8L521.3 195.9L521.8 196.0L522.2 195.0L522.7 195.4L523.1 195.4L523.6 194.7L524.0 194.1L524.5 193.1L524.9 193.3L525.4 192.6L525.8 191.9L526.3 190.5L526.7 189.5L527.2 188.4L527.6 186.6L528.1 185.4L528.5 184.0L529.0 182.6L529.4 182.2L529.9 180.7L530.3 180.2L530.8 180.1L531.2 178.9L531.7 179.3L532.1 179.6L532.6 179.6L533.0 180.0L533.5 179.8L533.9 180.4L534.4 181.6L534.8 182.6L535.3 183.2L535.7 183.9L536.2 184.9L536.6 185.8L537.1 186.8L537.5 187.2L538.0 186.9L538.4 186.8L538.9 186.2L539.3 185.5L539.8 184.6L540.2 184.5L540.7 183.8L541.1 181.9L541.6 180.6L542.0 179.6L542.5 177.9L542.9 176.8L543.4 175.7L543.8 174.5L544.3 173.3L544.7 172.4L545.1 172.5L545.6 171.9L546.0 171.9L546.5 172.5L546.9 173.0L547.4 173.6L547.8 175.5L548.3 176.5L548.7 177.4L549.2 178.6L549.6 179.9L550.1 181.6L550.5 182.2L551.0 183.2L551.4 184.7L551.9 185.6L552.3 185.7L552.8 186.9L553.2 187.4L553.7 187.2L554.1 187.4L554.6 188.3L555.0 188.2L555.5 188.7L555.9 188.6L556.4 188.5L556.8 189.2L557.3 189.3L557.7 189.3L558.2 189.1L558.6 188.9L559.1 188.0L559.5 186.3L560.0 184.2L560.4 182.0L560.9 178.6L561.3 175.3L561.8 173.3L562.2 172.4L562.7 172.4L563.1 173.9L563.6 176.4L564.0 178.4L564.5 180.7L564.9 181.3L565.4 182.1L565.8 182.1L566.3 181.5L566.7 181.9L567.2 182.7L567.6 184.3L568.1 186.0L568.5 187.6L569.0 188.7L569.4 190.5L569.8 191.0L570.3 191.9L570.7 192.4L571.2 192.1L571.6 192.3L572.1 192.2L572.5 192.2L573.0 192.6L573.4 193.3L573.9 193.9L574.3 193.6L574.8 193.4L575.2 193.8L575.7 194.3L576.1 194.6L576.6 194.6L577.0 194.0L577.5 194.3L577.9 193.8L578.4 192.9L578.8 191.1L579.3 189.1L579.7 188.4L580.2 187.4L580.6 186.0L581.1 185.9L581.5 187.7L582.0 189.4L582.4 191.1L582.9 192.9L583.3 194.1L583.8 195.0L584.2 195.7L584.7 196.4L585.1 196.6L585.6 196.6L586.0 196.7L586.5 196.0L586.9 195.5L587.4 195.5L587.8 194.7L588.3 194.0L588.7 193.6L589.2 192.6L589.6 191.7L590.1 189.7L590.5 188.3L591.0 187.3L591.4 185.7L591.9 183.6L592.3 182.3L592.8 180.8L593.2 180.4L593.7 179.5L594.1 179.3L594.6 180.4L595.0 180.9L595.4 182.4L595.9 183.2L596.3 184.4L596.8 185.8L597.2 187.8L597.7 189.4L598.1 190.1L598.6 190.9L599.0 192.2L599.5 193.0L599.9 193.3L600.4 194.3L600.8 194.6L601.3 195.6L601.7 196.4L602.2 197.1L602.6 197.7L603.1 198.2L603.5 199.5L604.0 199.7L604.4 200.6L604.9 201.1L605.3 201.1L605.8 201.2L606.2 201.4L606.7 201.3L607.1 202.1L607.6 202.3L608.0 202.1L608.5 202.5L608.9 202.8L609.4 202.8L609.8 202.3L610.3 202.0L610.7 202.1L611.2 201.8L611.6 201.9L612.1 202.5L612.5 202.8L613.0 202.4L613.4 203.0L613.9 202.7L614.3 203.1L614.8 203.4L615.2 202.9L615.7 203.2L616.1 202.4L616.6 202.2L617.0 202.6L617.5 203.0L617.9 203.3L618.4 203.0L618.8 202.8L619.3 202.9L619.7 202.6L620.1 202.7L620.6 202.4L621.0 203.1L621.5 203.4L621.9 203.2L622.4 203.0L622.8 203.1L623.3 202.8L623.7 203.1L624.2 203.1L624.6 203.0L625.1 202.6L625.5 202.5L626.0 202.8L626.4 202.9L626.9 202.4L627.3 202.2L627.8 202.4L628.2 203.1L628.7 203.0L629.1 202.8L629.6 203.1L630.0 203.4L630.5 202.6L630.9 202.3L631.4 203.0L631.8 203.0L632.3 202.8L632.7 203.1L633.2 203.4L633.6 202.8L634.1 202.6L634.5 202.8L635.0 203.3L635.4 203.2L635.9 203.5L636.3 202.6L636.8 203.3L637.2 203.3L637.7 202.8L638.1 203.2L638.6 203.5L639.0 203.6L639.5 203.6L639.9 203.1L640.4 202.6L640.8 203.2L641.3 203.4L641.7 202.8L642.2 203.0L642.6 203.1L643.1 203.4L643.5 203.4L644.0 202.6L644.4 203.2L644.8 203.3L645.3 202.8L645.7 202.5L646.2 202.3L646.6 202.7L647.1 202.4L647.5 202.6L648.0 203.1L648.4 203.0L648.9 202.8L649.3 202.6L649.8 203.2L650.2 203.4L650.7 202.7L651.1 203.3L651.6 202.8L652.0 203.1L652.5 203.3L652.9 203.4L653.4 203.2L653.8 202.5L654.3 203.2L654.7 202.6L655.2 203.0L655.6 203.3L656.1 202.8L656.5 203.0L657.0 203.3L657.4 203.1L657.9 202.5L658.3 202.2L658.8 202.4L659.2 203.1L659.7 202.4L660.1 202.3L660.6 201.9L661.0 201.6L661.5 202.0L661.9 201.6L662.4 201.3L662.8 201.7L663.3 201.7L663.7 201.6L664.2 201.4L664.6 201.2L665.1 201.3L665.5 201.1L666.0 200.1L666.4 200.2L666.9 199.8L667.3 199.3L667.8 199.2L668.2 199.6L668.7 199.0L669.1 198.8L669.5 198.4L670.0 198.6L670.4 198.6L670.9 198.6L671.3 199.2L671.8 199.0L672.2 199.3L672.7 199.0L673.1 199.8L673.6 199.7L674.0 200.0L674.5 199.7L674.9 200.2L675.4 200.0L675.8 200.0L676.3 200.1L676.7 201.1L677.2 200.8L677.6 200.9L678.1 201.2L678.5 201.4L679.0 202.3L679.4 201.8L679.9 202.0L680.3 202.3L680.8 202.6L681.2 202.3L681.7 202.2L682.1 202.2L682.6 202.9L683.0 203.1L683.5 203.3L683.9 203.6L684.4 203.4L684.8 203.7L685.3 203.0L685.7 203.4L686.2 203.7L686.6 203.9L687.1 203.2L687.5 203.5L688.0 203.4L688.4 203.4L688.9 202.9L689.3 202.6L689.8 203.2L690.2 203.1L690.7 202.7L691.1 203.1L691.6 202.7L692.0 202.8L692.5 203.3L692.9 202.8L693.4 203.0L693.8 203.6L694.3 203.3L694.7 202.9L695.1 203.1L695.6 203.2L696.0 203.3L696.5 202.9L696.9 202.9L697.4 203.4L697.8 203.5L698.3 203.5L698.7 202.9L699.2 202.9L699.6 203.5L700.1 202.9L700.5 203.7L701.0 203.3L701.4 203.4L701.9 203.1L702.3 203.3L702.8 203.7L703.2 203.4L703.7 203.0L704.1 202.9L704.6 203.3L705.0 203.6L705.5 203.2L705.9 202.9L706.4 203.5L706.8 202.9L707.3 202.6L707.7 203.1L708.2 203.4L708.6 203.1L709.1 202.7L709.5 203.4L710.0 203.6L710.4 203.6L710.9 203.2L711.3 203.6L711.8 203.4L712.2 203.3L712.7 203.1L713.1 203.6L713.6 202.9L714.0 202.6L714.5 203.0L714.9 202.8L715.4 203.5L715.8 202.9L716.3 203.1L716.7 202.9L717.2 202.7L717.6 203.2L718.1 202.8L718.5 203.4L719.0 203.9L719.4 203.5L719.8 203.0L720.3 202.7L720.7 202.6L721.2 203.0L721.6 202.7L722.1 203.0L722.5 203.6L723.0 203.3L723.4 203.0L723.9 203.2L724.3 203.2L724.8 203.5L725.2 203.6L725.7 203.5L726.1 203.4L726.6 203.4L727.0 203.8L727.5 204.0L727.9 203.8L728.4 203.2L728.8 203.0L729.3 203.5L729.7 203.6L730.2 203.4L730.6 203.7L731.1 203.3L731.5 202.9L732.0 203.5L732.4 203.3L732.9 203.0L733.3 202.9L733.8 202.9L734.2 202.9L734.7 203.4L735.1 203.0L735.6 202.7L736.0 203.6L736.5 202.9L736.9 203.2L737.4 203.7L737.8 203.9L738.3 203.2L738.7 203.1L739.2 203.6L739.6 203.5L740.1 203.2L740.5 202.7L741.0 203.2L741.4 203.0L741.9 203.5L742.3 203.7L742.8 203.8L743.2 203.6L743.7 203.3L744.1 203.5L744.5 203.8L745.0 203.8L745.4 204.0L745.9 203.9L746.3 203.7L746.8 203.5L747.2 203.7L747.7 203.5L748.1 203.4L748.6 202.8L749.0 203.0L749.5 202.5L749.9 202.8L750.4 203.0L750.8 202.5L751.3 202.5L751.7 202.2L752.2 201.9L752.6 200.8L753.1 199.7L753.5 199.7L754.0 199.6L754.4 199.4L754.9 199.6L755.3 199.4L755.8 200.0L756.2 200.8L756.7 200.6L757.1 201.2L757.6 202.3L758.0 202.1L758.5 202.3L758.9 202.9L759.4 202.9L759.8 202.6L760.3 203.1L760.7 203.3L761.2 203.5L761.6 203.3L762.1 203.1L762.5 203.0L763.0 202.7L763.4 203.4L763.9 203.5L764.3 203.0L764.8 202.8L765.2 203.0L765.7 203.0L766.1 203.3L766.6 202.8L767.0 203.0L767.5 203.2L767.9 203.5L768.4 203.6L768.8 202.7L769.3 202.4L769.7 202.9L770.1 202.3L770.6 201.3L771.0 200.2L771.5 199.0L771.9 197.0L772.4 195.7L772.8 193.8L773.3 191.1L773.7 188.8L774.2 186.3L774.6 183.5L775.1 180.1L775.5 176.2L776.0 171.8L776.4 167.8L776.9 163.2L777.3 158.1L777.8 152.8L778.2 146.7L778.7 141.1L779.1 135.6L779.6 129.8L780.0 123.4L780.5 118.2L780.9 112.3L781.4 107.7L781.8 102.9L782.3 98.7L782.7 94.0L783.2 91.1L783.6 88.5L784.1 89.2L784.5 91.1L785.0 93.0L785.4 95.6L785.9 98.5L786.3 101.8L786.8 105.8L787.2 109.5L787.7 114.4L788.1 118.1L788.6 122.8L789.0 127.7L789.5 131.8L789.9 136.0L790.4 140.9L790.8 145.8L791.3 149.5L791.7 153.6L792.2 157.8L792.6 161.3L793.1 165.9L793.5 169.8L794.0 173.2L794.4 176.5L794.8 178.7L795.3 181.2L795.7 184.3L796.2 186.7L796.6 188.9L797.1 190.4L797.5 191.8L798.0 192.9L798.4 194.6L798.9 195.0L799.3 196.0L799.8 196.5L800.2 196.6L800.7 196.3L801.1 194.9L801.6 193.9L802.0 193.5L802.5 193.6L802.9 193.8L803.4 194.2L803.8 194.9L804.3 195.5L804.7 197.4L805.2 198.4L805.6 199.4L806.1 201.1L806.5 201.8L807.0 201.9L807.4 202.4L807.9 202.9L808.3 202.7L808.8 202.9L809.2 203.3L809.7 203.4L810.1 202.8L810.6 202.7L811.0 202.6L811.5 202.9L811.9 203.5L812.4 203.7L812.8 203.6L813.3 203.2L813.7 203.8L814.2 203.1L814.6 202.9L815.1 203.1L815.5 203.7L816.0 203.1L816.4 203.2L816.9 203.0L817.3 203.0L817.8 202.8L818.2 203.0L818.7 202.5L819.1 202.2L819.5 202.1L820.0 202.3L820.4 202.7L820.9 202.7L821.3 202.8L821.8 202.0L822.2 201.8L822.7 201.6L823.1 201.4L823.6 201.0L824.0 201.1L824.5 201.4L824.9 201.0L825.4 201.2L825.8 200.8L826.3 201.0L826.7 200.2L827.2 200.1L827.6 200.2L828.1 199.5L828.5 200.0L829.0 199.1L829.4 198.9L829.9 199.4L830.3 198.9L830.8 198.8L831.2 198.4L831.7 198.5L832.1 198.8L832.6 198.3L833.0 199.1L833.5 198.7L833.9 199.3L834.4 199.4L834.8 199.7L835.3 199.1L835.7 199.4L836.2 199.3L836.6 199.9L837.1 199.8L837.5 199.9L838.0 200.7L838.4 200.7L838.9 200.6L839.3 201.2L839.8 201.1L840.2 201.6L840.7 201.8L841.1 201.4L841.6 201.3L842.0 201.2L842.5 202.0L842.9 202.2L843.4 202.0L843.8 202.1L844.2 202.5L844.7 202.3L845.1 202.8L845.6 202.4L846.0 202.8L846.5 203.4L846.9 202.9L847.4 203.4"/><path d="M405.0 213.2L405.5 213.8L405.9 213.0L406.4 213.2L406.8 213.1L407.3 213.7L407.7 213.4L408.2 213.5L408.6 213.8L409.1 213.2L409.5 213.9L410.0 213.6L410.4 214.0L410.9 213.3L411.3 212.9L411.8 213.8L412.2 213.6L412.7 213.6L413.1 213.3L413.6 213.1L414.0 213.5L414.5 213.0L414.9 213.6L415.4 213.9L415.8 213.3L416.3 213.8L416.7 213.9L417.2 213.6L417.6 213.7L418.1 213.9L418.5 213.1L419.0 213.3L419.4 213.0L419.9 213.5L420.3 212.9L420.7 213.4L421.2 212.8L421.6 212.9L422.1 212.4L422.5 212.4L423.0 212.5L423.4 212.6L423.9 212.2L424.3 212.4L424.8 212.8L425.2 211.9L425.7 211.6L426.1 211.5L426.6 211.3L427.0 211.7L427.5 211.6L427.9 211.0L428.4 210.6L428.8 210.4L429.3 211.1L429.7 210.8L430.2 210.9L430.6 211.0L431.1 211.4L431.5 211.6L432.0 211.4L432.4 211.3L432.9 211.6L433.3 211.7L433.8 211.7L434.2 211.5L434.7 211.7L435.1 212.4L435.6 211.9L436.0 212.4L436.5 212.0L436.9 211.9L437.4 212.9L437.8 212.9L438.3 212.5L438.7 213.0L439.2 213.1L439.6 213.5L440.1 213.9L440.5 214.0L441.0 214.1L441.4 214.0L441.9 213.6L442.3 213.5L442.8 213.1L443.2 213.2L443.7 213.6L444.1 213.1L444.6 213.3L445.0 213.4L445.4 213.2L445.9 213.3L446.3 213.7L446.8 213.5L447.2 213.8L447.7 213.2L448.1 213.8L448.6 213.2L449.0 214.0L449.5 214.3L449.9 213.8L450.4 214.0L450.8 213.6L451.3 213.5L451.7 212.3L452.2 211.3L452.6 210.2L453.1 209.0L453.5 208.3L454.0 208.6L454.4 209.4L454.9 211.2L455.3 212.5L455.8 213.0L456.2 212.8L456.7 213.4L457.1 213.4L457.6 214.0L458.0 213.7L458.5 212.9L458.9 212.8L459.4 212.4L459.8 212.8L460.3 212.3L460.7 210.6L461.2 206.1L461.6 201.5L462.1 198.0L462.5 200.5L463.0 204.3L463.4 207.6L463.9 209.0L464.3 208.6L464.8 208.9L465.2 208.7L465.7 209.3L466.1 208.6L466.6 208.2L467.0 209.0L467.5 208.5L467.9 208.9L468.4 209.1L468.8 208.9L469.3 208.5L469.7 207.9L470.1 207.6L470.6 207.4L471.0 207.7L471.5 207.7L471.9 208.3L472.4 207.9L472.8 207.9L473.3 208.2L473.7 207.8L474.2 208.3L474.6 208.8L475.1 209.0L475.5 209.1L476.0 208.7L476.4 208.3L476.9 208.8L477.3 208.5L477.8 208.1L478.2 207.8L478.7 207.6L479.1 207.1L479.6 207.5L480.0 207.5L480.5 207.3L480.9 207.6L481.4 207.4L481.8 208.1L482.3 207.9L482.7 208.6L483.2 209.1L483.6 208.9L484.1 208.9L484.5 209.0L485.0 208.5L485.4 208.9L485.9 208.6L486.3 208.2L486.8 208.4L487.2 208.5L487.7 207.9L488.1 208.0L488.6 208.5L489.0 208.7L489.5 208.7L489.9 208.4L490.4 208.4L490.8 207.7L491.3 207.6L491.7 207.5L492.2 207.2L492.6 206.4L493.1 206.8L493.5 206.8L494.0 206.4L494.4 205.5L494.9 202.7L495.3 199.0L495.7 196.3L496.2 197.1L496.6 200.5L497.1 203.4L497.5 203.8L498.0 203.9L498.4 204.3L498.9 203.8L499.3 204.2L499.8 203.8L500.2 203.7L500.7 203.9L501.1 203.2L501.6 202.9L502.0 203.0L502.5 203.3L502.9 202.8L503.4 202.8L503.8 202.4L504.3 202.7L504.7 201.8L505.2 202.2L505.6 201.8L506.1 201.2L506.5 200.9L507.0 200.6L507.4 199.5L507.9 198.4L508.3 198.4L508.8 198.2L509.2 197.4L509.7 197.4L510.1 197.1L510.6 196.7L511.0 196.8L511.5 197.3L511.9 197.8L512.4 197.7L512.8 197.5L513.3 197.9L513.7 199.4L514.2 200.0L514.6 200.7L515.1 201.8L515.5 202.2L516.0 203.0L516.4 203.4L516.9 204.5L517.3 204.6L517.8 205.0L518.2 205.8L518.7 206.7L519.1 206.9L519.6 207.5L520.0 207.2L520.4 207.1L520.9 207.2L521.3 206.8L521.8 207.6L522.2 207.1L522.7 206.6L523.1 207.0L523.6 206.7L524.0 206.6L524.5 205.6L524.9 204.7L525.4 204.2L525.8 203.1L526.3 202.4L526.7 201.1L527.2 200.3L527.6 198.5L528.1 197.6L528.5 196.9L529.0 195.9L529.4 194.1L529.9 192.7L530.3 191.9L530.8 191.8L531.2 190.8L531.7 190.5L532.1 191.1L532.6 191.3L533.0 191.4L533.5 192.6L533.9 193.5L534.4 194.1L534.8 194.3L535.3 194.8L535.7 196.3L536.2 196.7L536.6 197.3L537.1 197.7L537.5 198.4L538.0 198.2L538.4 198.4L538.9 197.8L539.3 197.6L539.8 197.5L540.2 196.4L540.7 195.3L541.1 194.2L541.6 192.9L542.0 191.3L542.5 189.8L542.9 188.8L543.4 187.6L543.8 186.2L544.3 185.2L544.7 184.6L545.1 183.9L545.6 184.2L546.0 184.1L546.5 184.7L546.9 184.9L547.4 185.7L547.8 186.6L548.3 188.0L548.7 189.7L549.2 190.4L549.6 191.9L550.1 193.4L550.5 194.7L551.0 195.8L551.4 196.4L551.9 196.9L552.3 197.9L552.8 198.4L553.2 199.4L553.7 199.7L554.1 200.1L554.6 200.5L555.0 200.6L555.5 200.4L555.9 200.3L556.4 200.9L556.8 201.2L557.3 200.7L557.7 200.5L558.2 200.3L558.6 199.8L559.1 198.9L559.5 198.0L560.0 196.4L560.4 193.7L560.9 191.1L561.3 187.4L561.8 185.3L562.2 184.1L562.7 183.9L563.1 185.2L563.6 188.0L564.0 190.4L564.5 192.5L564.9 193.0L565.4 193.3L565.8 193.6L566.3 193.9L566.7 194.5L567.2 195.3L567.6 196.4L568.1 197.7L568.5 199.3L569.0 200.6L569.4 202.2L569.8 203.1L570.3 203.9L570.7 203.6L571.2 204.4L571.6 204.9L572.1 205.0L572.5 204.4L573.0 204.4L573.4 205.0L573.9 204.8L574.3 204.7L574.8 205.3L575.2 205.8L575.7 205.5L576.1 205.8L576.6 206.3L577.0 205.5L577.5 205.6L577.9 205.2L578.4 204.2L578.8 203.3L579.3 202.2L579.7 200.4L580.2 199.0L580.6 198.8L581.1 198.8L581.5 199.4L582.0 201.2L582.4 202.8L582.9 204.4L583.3 206.1L583.8 207.4L584.2 207.4L584.7 207.6L585.1 208.0L585.6 208.3L586.0 207.6L586.5 207.2L586.9 207.6L587.4 207.2L587.8 206.7L588.3 206.4L588.7 206.0L589.2 204.9L589.6 203.3L590.1 201.8L590.5 200.3L591.0 199.1L591.4 197.6L591.9 195.9L592.3 194.3L592.8 193.2L593.2 191.7L593.7 191.9L594.1 191.2L594.6 192.1L595.0 192.5L595.4 194.1L595.9 195.2L596.3 196.8L596.8 198.7L597.2 199.4L597.7 200.4L598.1 202.0L598.6 202.6L599.0 203.6L599.5 203.8L599.9 205.3L600.4 206.0L600.8 206.8L601.3 207.2L601.7 207.6L602.2 208.2L602.6 209.3L603.1 210.3L603.5 210.7L604.0 212.0L604.4 212.6L604.9 212.5L605.3 213.0L605.8 212.8L606.2 213.8L606.7 213.9L607.1 214.2L607.6 214.7L608.0 214.8L608.5 214.9L608.9 214.6L609.4 214.5L609.8 214.4L610.3 214.6L610.7 214.3L611.2 214.3L611.6 213.9L612.1 214.6L612.5 214.5L613.0 214.5L613.4 214.7L613.9 214.2L614.3 214.7L614.8 214.2L615.2 214.6L615.7 214.8L616.1 214.6L616.6 214.5L617.0 214.8L617.5 215.2L617.9 214.4L618.4 214.7L618.8 215.1L619.3 214.7L619.7 214.6L620.1 214.8L620.6 214.9L621.0 214.4L621.5 214.8L621.9 214.8L622.4 214.2L622.8 214.7L623.3 214.8L623.7 215.1L624.2 214.7L624.6 214.5L625.1 214.7L625.5 214.8L626.0 215.1L626.4 214.5L626.9 214.7L627.3 214.4L627.8 214.7L628.2 214.5L628.7 215.2L629.1 215.2L629.6 214.4L630.0 214.4L630.5 214.4L630.9 214.6L631.4 214.7L631.8 215.1L632.3 215.3L632.7 214.8L633.2 214.6L633.6 215.0L634.1 214.7L634.5 215.1L635.0 214.8L635.4 215.2L635.9 214.9L636.3 215.1L636.8 214.8L637.2 215.2L637.7 215.0L638.1 214.8L638.6 215.2L639.0 215.2L639.5 214.8L639.9 214.7L640.4 214.7L640.8 214.5L641.3 214.6L641.7 215.0L642.2 215.0L642.6 214.5L643.1 214.6L643.5 214.5L644.0 214.8L644.4 214.9L644.8 214.4L645.3 214.3L645.7 214.5L646.2 215.1L646.6 214.8L647.1 215.4L647.5 214.6L648.0 214.2L648.4 214.4L648.9 214.9L649.3 214.5L649.8 215.1L650.2 214.6L650.7 214.7L651.1 215.4L651.6 214.6L652.0 214.9L652.5 214.5L652.9 214.5L653.4 214.7L653.8 214.4L654.3 215.0L654.7 214.5L655.2 214.9L655.6 215.4L656.1 215.2L656.5 215.5L657.0 215.5L657.4 214.9L657.9 215.2L658.3 215.3L658.8 215.1L659.2 215.1L659.7 214.3L660.1 213.9L660.6 213.8L661.0 213.6L661.5 214.0L661.9 213.7L662.4 214.1L662.8 213.5L663.3 213.3L663.7 213.2L664.2 213.7L664.6 213.9L665.1 213.0L665.5 212.9L666.0 212.8L666.4 212.3L666.9 212.9L667.3 212.4L667.8 212.4L668.2 212.0L668.7 212.1L669.1 212.4L669.5 211.7L670.0 212.1L670.4 211.8L670.9 211.5L671.3 212.1L671.8 211.9L672.2 212.2L672.7 212.5L673.1 212.7L673.6 212.1L674.0 212.5L674.5 212.7L674.9 212.8L675.4 213.5L675.8 213.0L676.3 213.0L676.7 212.9L677.2 213.5L677.6 214.0L678.1 214.1L678.5 213.8L679.0 213.9L679.4 214.2L679.9 214.3L680.3 214.8L680.8 214.2L681.2 214.5L681.7 214.6L682.1 214.4L682.6 215.0L683.0 214.7L683.5 215.0L683.9 214.6L684.4 215.3L684.8 215.4L685.3 215.0L685.7 215.0L686.2 215.2L686.6 215.0L687.1 215.4L687.5 215.3L688.0 215.7L688.4 215.0L688.9 215.3L689.3 214.8L689.8 214.9L690.2 214.9L690.7 214.9L691.1 215.4L691.6 214.9L692.0 215.3L692.5 214.8L692.9 214.7L693.4 214.8L693.8 214.6L694.3 215.0L694.7 214.9L695.1 214.6L695.6 215.3L696.0 215.6L696.5 215.4L696.9 215.3L697.4 215.6L697.8 215.6L698.3 215.0L698.7 215.2L699.2 215.6L699.6 215.7L700.1 215.3L700.5 215.6L701.0 215.4L701.4 215.2L701.9 215.3L702.3 215.2L702.8 214.8L703.2 215.6L703.7 214.9L704.1 215.4L704.6 215.8L705.0 215.1L705.5 215.1L705.9 215.1L706.4 215.5L706.8 215.0L707.3 215.3L707.7 215.0L708.2 215.4L708.6 215.2L709.1 215.0L709.5 215.3L710.0 215.3L710.4 215.7L710.9 215.2L711.3 215.0L711.8 215.5L712.2 215.3L712.7 215.0L713.1 215.5L713.6 215.0L714.0 214.7L714.5 215.5L714.9 215.6L715.4 215.8L715.8 215.7L716.3 215.9L716.7 215.5L717.2 215.6L717.6 215.6L718.1 215.4L718.5 215.4L719.0 215.0L719.4 214.9L719.8 215.5L720.3 215.6L720.7 215.9L721.2 215.7L721.6 215.8L722.1 215.2L722.5 214.9L723.0 214.5L723.4 215.3L723.9 215.7L724.3 215.1L724.8 215.3L725.2 214.8L725.7 215.1L726.1 215.4L726.6 215.7L727.0 214.9L727.5 215.1L727.9 215.2L728.4 215.3L728.8 214.9L729.3 214.7L729.7 215.0L730.2 215.5L730.6 215.4L731.1 214.9L731.5 215.2L732.0 215.0L732.4 215.1L732.9 215.2L733.3 215.1L733.8 215.4L734.2 215.2L734.7 214.8L735.1 215.5L735.6 215.5L736.0 214.9L736.5 214.5L736.9 215.5L737.4 215.2L737.8 215.0L738.3 214.8L738.7 215.1L739.2 215.5L739.6 215.6L740.1 215.1L740.5 214.9L741.0 215.4L741.4 215.1L741.9 215.0L742.3 214.9L742.8 215.6L743.2 215.4L743.7 215.5L744.1 215.2L744.5 215.4L745.0 215.7L745.4 215.2L745.9 215.4L746.3 215.0L746.8 215.3L747.2 215.2L747.7 214.8L748.1 215.5L748.6 215.0L749.0 215.5L749.5 214.7L749.9 215.3L750.4 214.6L750.8 214.5L751.3 214.4L751.7 213.9L752.2 213.2L752.6 212.7L753.1 212.6L753.5 211.8L754.0 211.6L754.4 210.8L754.9 211.2L755.3 211.5L755.8 212.1L756.2 211.9L756.7 212.8L757.1 213.1L757.6 213.3L758.0 214.1L758.5 214.2L758.9 214.9L759.4 215.4L759.8 215.7L760.3 215.4L760.7 214.9L761.2 215.4L761.6 215.3L762.1 215.0L762.5 215.3L763.0 215.6L763.4 215.4L763.9 215.3L764.3 214.8L764.8 214.6L765.2 215.2L765.7 215.1L766.1 215.2L766.6 215.7L767.0 215.4L767.5 214.7L767.9 215.1L768.4 214.9L768.8 214.6L769.3 215.1L769.7 214.1L770.1 214.2L770.6 213.4L771.0 211.9L771.5 211.2L771.9 209.6L772.4 208.1L772.8 205.9L773.3 204.1L773.7 201.7L774.2 198.8L774.6 195.9L775.1 192.6L775.5 188.7L776.0 184.3L776.4 180.1L776.9 174.7L777.3 169.8L777.8 164.8L778.2 159.3L778.7 153.0L779.1 147.7L779.6 141.3L780.0 136.0L780.5 129.5L780.9 124.3L781.4 119.0L781.8 113.8L782.3 110.1L782.7 106.6L783.2 102.7L783.6 99.9L784.1 100.1L784.5 102.7L785.0 105.0L785.4 108.2L785.9 111.2L786.3 114.7L786.8 118.1L787.2 122.2L787.7 126.5L788.1 130.4L788.6 135.3L789.0 139.2L789.5 143.8L789.9 148.7L790.4 153.4L790.8 157.5L791.3 161.7L791.7 165.7L792.2 170.0L792.6 174.0L793.1 177.2L793.5 181.2L794.0 184.0L794.4 187.0L794.8 189.7L795.3 192.5L795.7 195.7L796.2 197.7L796.6 200.0L797.1 202.4L797.5 203.4L798.0 205.0L798.4 206.1L798.9 207.2L799.3 208.4L799.8 208.1L800.2 208.5L800.7 208.2L801.1 207.2L801.6 206.9L802.0 206.1L802.5 205.2L802.9 205.6L803.4 205.6L803.8 206.8L804.3 207.7L804.7 208.7L805.2 209.9L805.6 211.9L806.1 213.1L806.5 213.1L807.0 214.1L807.4 214.6L807.9 215.0L808.3 214.8L808.8 214.8L809.2 214.8L809.7 215.2L810.1 215.1L810.6 215.1L811.0 215.5L811.5 214.8L811.9 214.5L812.4 214.6L812.8 214.4L813.3 214.9L813.7 214.7L814.2 215.2L814.6 214.9L815.1 214.8L815.5 214.5L816.0 214.5L816.4 214.4L816.9 215.0L817.3 214.7L817.8 214.9L818.2 215.1L818.7 215.1L819.1 214.6L819.5 214.3L820.0 214.1L820.4 214.2L820.9 214.7L821.3 214.8L821.8 214.4L822.2 214.5L822.7 214.3L823.1 214.4L823.6 214.3L824.0 213.5L824.5 213.6L824.9 212.9L825.4 213.0L825.8 212.4L826.3 212.6L826.7 212.6L827.2 212.4L827.6 212.6L828.1 212.1L828.5 211.8L829.0 212.0L829.4 211.1L829.9 211.2L830.3 211.5L830.8 210.6L831.2 211.0L831.7 211.1L832.1 211.4L832.6 211.4L833.0 210.8L833.5 210.7L833.9 210.8L834.4 211.2L834.8 211.4L835.3 210.8L835.7 211.3L836.2 211.0L836.6 211.0L837.1 212.0L837.5 211.7L838.0 212.7L838.4 212.4L838.9 212.3L839.3 212.5L839.8 212.9L840.2 212.8L840.7 213.7L841.1 213.7L841.6 214.1L842.0 214.2L842.5 214.5L842.9 214.2L843.4 214.2L843.8 214.1L844.2 214.3L844.7 214.4L845.1 214.2L845.6 214.2L846.0 214.6L846.5 215.0L846.9 214.5L847.4 215.0"/><path d="M405.0 224.1L405.5 224.1L405.9 223.6L406.4 223.2L406.8 223.4L407.3 223.4L407.7 223.1L408.2 223.2L408.6 223.6L409.1 223.7L409.5 223.4L410.0 223.8L410.4 224.2L410.9 223.8L411.3 223.4L411.8 223.9L412.2 223.6L412.7 223.3L413.1 224.0L413.6 224.2L414.0 224.0L414.5 224.0L414.9 223.4L415.4 223.1L415.8 223.5L416.3 223.3L416.7 223.4L417.2 224.0L417.6 223.3L418.1 223.9L418.5 224.3L419.0 224.0L419.4 224.3L419.9 223.9L420.3 223.8L420.7 223.1L421.2 223.4L421.6 223.0L422.1 222.9L422.5 223.0L423.0 223.3L423.4 223.3L423.9 223.1L424.3 223.0L424.8 222.6L425.2 222.5L425.7 222.5L426.1 222.2L426.6 221.5L427.0 222.0L427.5 222.0L427.9 222.3L428.4 222.2L428.8 222.2L429.3 221.8L429.7 221.1L430.2 221.0L430.6 220.6L431.1 220.7L431.5 221.0L432.0 221.2L432.4 222.0L432.9 221.9L433.3 222.1L433.8 221.9L434.2 222.5L434.7 222.4L435.1 222.6L435.6 222.6L436.0 222.8L436.5 223.3L436.9 222.9L437.4 222.8L437.8 223.0L438.3 223.7L438.7 223.4L439.2 223.1L439.6 222.9L440.1 223.1L440.5 224.0L441.0 223.4L441.4 223.5L441.9 223.9L442.3 223.4L442.8 223.3L443.2 223.2L443.7 223.9L444.1 223.8L444.6 224.0L445.0 224.2L445.4 223.8L445.9 223.7L446.3 224.1L446.8 223.9L447.2 223.5L447.7 223.7L448.1 223.4L448.6 223.7L449.0 223.3L449.5 224.2L449.9 224.1L450.4 223.9L450.8 223.5L451.3 222.7L451.7 222.4L452.2 221.7L452.6 220.6L453.1 219.7L453.5 219.1L454.0 218.8L454.4 220.4L454.9 221.4L455.3 221.9L455.8 223.3L456.2 223.3L456.7 224.1L457.1 223.8L457.6 223.4L458.0 223.8L458.5 223.7L458.9 223.7L459.4 223.0L459.8 222.7L460.3 221.9L460.7 220.5L461.2 216.5L461.6 210.9L462.1 208.1L462.5 209.9L463.0 215.0L463.4 218.1L463.9 219.3L464.3 219.6L464.8 219.0L465.2 219.5L465.7 219.2L466.1 218.9L466.6 218.5L467.0 219.4L467.5 219.4L467.9 219.1L468.4 218.5L468.8 219.1L469.3 218.5L469.7 218.7L470.1 218.6L470.6 218.0L471.0 218.7L471.5 218.7L471.9 218.8L472.4 218.9L472.8 218.8L473.3 218.3L473.7 218.3L474.2 218.9L474.6 218.5L475.1 218.6L475.5 219.2L476.0 218.6L476.4 218.4L476.9 218.9L477.3 218.2L477.8 217.9L478.2 218.2L478.7 218.4L479.1 217.3L479.6 216.8L480.0 217.4L480.5 217.0L480.9 217.1L481.4 217.5L481.8 217.7L482.3 217.7L482.7 218.6L483.2 218.5L483.6 218.4L484.1 219.0L484.5 218.8L485.0 218.7L485.4 218.5L485.9 218.7L486.3 219.0L486.8 219.2L487.2 218.9L487.7 219.2L488.1 218.4L488.6 218.0L489.0 218.5L489.5 218.2L489.9 217.9L490.4 218.4L490.8 217.7L491.3 217.4L491.7 217.6L492.2 217.8L492.6 217.6L493.1 216.8L493.5 216.7L494.0 216.0L494.4 215.7L494.9 213.8L495.3 210.0L495.7 206.4L496.2 207.3L496.6 210.8L497.1 212.9L497.5 214.6L498.0 214.4L498.4 214.8L498.9 214.6L499.3 214.0L499.8 213.5L500.2 213.7L500.7 213.7L501.1 214.1L501.6 213.9L502.0 213.9L502.5 213.2L502.9 212.9L503.4 212.6L503.8 212.6L504.3 212.3L504.7 212.6L505.2 212.3L505.6 212.0L506.1 211.6L506.5 210.6L507.0 210.5L507.4 210.0L507.9 209.6L508.3 208.4L508.8 208.0L509.2 207.7L509.7 207.6L510.1 206.8L510.6 206.4L511.0 206.9L511.5 207.0L511.9 207.0L512.4 207.9L512.8 208.6L513.3 209.4L513.7 209.7L514.2 210.0L514.6 211.3L515.1 212.0L515.5 212.1L516.0 213.2L516.4 214.1L516.9 214.4L517.3 214.7L517.8 215.8L518.2 216.7L518.7 216.7L519.1 216.8L519.6 216.7L520.0 217.1L520.4 217.7L520.9 217.7L521.3 217.9L521.8 217.8L522.2 217.6L522.7 216.9L523.1 216.4L523.6 216.0L524.0 216.0L524.5 215.2L524.9 215.3L525.4 214.0L525.8 213.2L526.3 212.1L526.7 211.4L527.2 209.8L527.6 209.5L528.1 207.7L528.5 206.3L529.0 205.5L529.4 204.0L529.9 203.5L530.3 202.3L530.8 201.8L531.2 201.5L531.7 201.5L532.1 200.9L532.6 201.0L533.0 202.1L533.5 202.0L533.9 203.3L534.4 204.2L534.8 205.0L535.3 205.8L535.7 206.2L536.2 206.8L536.6 207.7L537.1 208.6L537.5 209.4L538.0 209.8L538.4 209.3L538.9 208.8L539.3 208.3L539.8 207.0L540.2 206.5L540.7 205.7L541.1 204.4L541.6 203.4L542.0 201.2L542.5 199.9L542.9 198.6L543.4 197.5L543.8 196.7L544.3 195.8L544.7 194.9L545.1 194.4L545.6 193.7L546.0 194.0L546.5 194.9L546.9 196.0L547.4 196.9L547.8 197.7L548.3 198.3L548.7 199.3L549.2 201.2L549.6 202.1L550.1 203.6L550.5 204.7L551.0 205.8L551.4 207.3L551.9 208.3L552.3 208.4L552.8 208.8L553.2 209.5L553.7 209.4L554.1 209.7L554.6 210.5L555.0 211.1L555.5 211.0L555.9 210.8L556.4 211.3L556.8 211.7L557.3 211.4L557.7 211.7L558.2 210.8L558.6 210.3L559.1 209.7L559.5 208.3L560.0 206.5L560.4 204.1L560.9 201.3L561.3 197.8L561.8 195.7L562.2 194.4L562.7 194.8L563.1 195.8L563.6 198.0L564.0 200.2L564.5 202.3L564.9 203.4L565.4 204.3L565.8 203.6L566.3 203.7L566.7 204.4L567.2 205.3L567.6 207.2L568.1 208.9L568.5 210.6L569.0 211.4L569.4 213.1L569.8 213.7L570.3 213.6L570.7 213.9L571.2 214.1L571.6 214.8L572.1 215.2L572.5 214.9L573.0 215.3L573.4 215.1L573.9 215.5L574.3 215.3L574.8 215.5L575.2 215.4L575.7 215.3L576.1 215.9L576.6 215.5L577.0 216.4L577.5 215.6L577.9 215.8L578.4 214.7L578.8 213.5L579.3 211.6L579.7 210.4L580.2 209.4L580.6 208.3L581.1 208.6L581.5 209.5L582.0 211.3L582.4 213.7L582.9 214.7L583.3 216.4L583.8 217.2L584.2 218.2L584.7 218.5L585.1 218.1L585.6 217.9L586.0 217.9L586.5 218.0L586.9 217.6L587.4 217.3L587.8 217.3L588.3 216.6L588.7 215.6L589.2 214.4L589.6 213.8L590.1 212.5L590.5 211.0L591.0 209.6L591.4 207.8L591.9 205.7L592.3 204.3L592.8 203.5L593.2 202.2L593.7 202.3L594.1 201.8L594.6 202.7L595.0 203.7L595.4 204.7L595.9 205.7L596.3 207.3L596.8 208.2L597.2 209.2L597.7 211.1L598.1 212.0L598.6 212.9L599.0 213.8L599.5 214.9L599.9 215.0L600.4 215.4L600.8 217.0L601.3 217.7L601.7 218.5L602.2 219.5L602.6 220.1L603.1 220.3L603.5 221.7L604.0 221.7L604.4 222.6L604.9 223.5L605.3 223.1L605.8 223.8L606.2 224.2L606.7 224.6L607.1 224.5L607.6 224.8L608.0 224.9L608.5 224.9L608.9 224.6L609.4 224.7L609.8 224.8L610.3 224.7L610.7 224.4L611.2 224.3L611.6 224.8L612.1 224.3L612.5 224.3L613.0 224.5L613.4 224.7L613.9 225.0L614.3 225.3L614.8 224.6L615.2 224.7L615.7 225.2L616.1 224.6L616.6 224.4L617.0 225.2L617.5 224.8L617.9 225.2L618.4 225.0L618.8 224.6L619.3 225.0L619.7 225.0L620.1 224.8L620.6 225.2L621.0 225.0L621.5 225.1L621.9 224.5L622.4 225.1L622.8 224.8L623.3 225.4L623.7 225.4L624.2 225.6L624.6 225.6L625.1 225.2L625.5 225.5L626.0 224.9L626.4 225.4L626.9 225.1L627.3 224.6L627.8 225.3L628.2 225.5L628.7 224.9L629.1 225.0L629.6 224.6L630.0 225.0L630.5 225.2L630.9 224.6L631.4 225.1L631.8 224.5L632.3 224.4L632.7 225.1L633.2 225.1L633.6 224.6L634.1 225.3L634.5 224.8L635.0 224.7L635.4 224.6L635.9 224.8L636.3 225.4L636.8 224.7L637.2 225.4L637.7 224.9L638.1 224.8L638.6 225.2L639.0 224.9L639.5 225.1L639.9 224.9L640.4 225.5L640.8 224.8L641.3 225.1L641.7 224.8L642.2 225.0L642.6 224.7L643.1 225.2L643.5 225.1L644.0 225.7L644.4 225.4L644.8 225.7L645.3 225.0L645.7 224.9L646.2 225.1L646.6 224.6L647.1 224.5L647.5 224.4L648.0 225.3L648.4 225.0L648.9 224.9L649.3 224.9L649.8 225.6L650.2 224.9L650.7 225.1L651.1 225.1L651.6 224.8L652.0 225.3L652.5 225.7L652.9 224.9L653.4 225.3L653.8 225.8L654.3 225.8L654.7 224.9L655.2 224.8L655.6 225.3L656.1 225.6L656.5 224.9L657.0 224.9L657.4 224.9L657.9 225.5L658.3 225.3L658.8 224.7L659.2 225.5L659.7 225.3L660.1 225.6L660.6 224.7L661.0 225.3L661.5 224.5L661.9 224.3L662.4 224.3L662.8 225.1L663.3 224.6L663.7 224.6L664.2 224.5L664.6 224.9L665.1 224.5L665.5 224.1L666.0 224.6L666.4 223.9L666.9 224.1L667.3 224.3L667.8 224.4L668.2 224.1L668.7 223.8L669.1 223.7L669.5 223.4L670.0 223.6L670.4 223.7L670.9 223.2L671.3 223.9L671.8 224.4L672.2 224.3L672.7 224.3L673.1 224.5L673.6 224.3L674.0 224.7L674.5 223.9L674.9 224.2L675.4 223.8L675.8 224.0L676.3 224.0L676.7 224.1L677.2 224.6L677.6 224.4L678.1 225.0L678.5 224.8L679.0 224.8L679.4 224.6L679.9 225.2L680.3 225.3L680.8 224.8L681.2 224.7L681.7 224.5L682.1 225.3L682.6 225.6L683.0 225.8L683.5 225.3L683.9 225.0L684.4 225.0L684.8 224.9L685.3 225.2L685.7 225.2L686.2 224.8L686.6 225.0L687.1 225.1L687.5 225.2L688.0 225.3L688.4 225.1L688.9 225.2L689.3 225.7L689.8 225.6L690.2 225.6L690.7 225.6L691.1 225.4L691.6 225.6L692.0 225.6L692.5 225.6L692.9 225.6L693.4 225.0L693.8 225.7L694.3 226.1L694.7 225.5L695.1 225.6L695.6 225.6L696.0 225.4L696.5 225.6L696.9 225.8L697.4 226.1L697.8 225.3L698.3 224.9L698.7 225.5L699.2 225.5L699.6 225.7L700.1 226.0L700.5 225.3L701.0 225.0L701.4 225.6L701.9 225.8L702.3 225.4L702.8 225.1L703.2 225.4L703.7 225.6L704.1 225.8L704.6 225.3L705.0 225.0L705.5 224.9L705.9 225.7L706.4 225.5L706.8 225.0L707.3 225.0L707.7 225.4L708.2 225.8L708.6 226.1L709.1 225.5L709.5 226.0L710.0 225.3L710.4 225.3L710.9 225.4L711.3 225.0L711.8 224.8L712.2 225.1L712.7 225.8L713.1 225.5L713.6 225.6L714.0 225.8L714.5 225.2L714.9 225.1L715.4 225.8L715.8 225.9L716.3 225.8L716.7 225.6L717.2 225.7L717.6 225.7L718.1 225.2L718.5 225.7L719.0 225.4L719.4 225.6L719.8 225.1L720.3 224.8L720.7 225.4L721.2 225.4L721.6 225.9L722.1 225.7L722.5 225.5L723.0 225.3L723.4 225.6L723.9 226.1L724.3 226.1L724.8 225.7L725.2 225.9L725.7 225.9L726.1 225.5L726.6 225.1L727.0 225.3L727.5 225.7L727.9 225.5L728.4 225.7L728.8 225.3L729.3 225.8L729.7 225.9L730.2 225.7L730.6 225.1L731.1 225.7L731.5 225.9L732.0 226.1L732.4 226.0L732.9 225.9L733.3 225.8L733.8 225.3L734.2 225.5L734.7 225.5L735.1 225.6L735.6 225.3L736.0 225.0L736.5 225.4L736.9 225.0L737.4 225.6L737.8 225.0L738.3 225.3L738.7 225.2L739.2 225.5L739.6 225.8L740.1 226.0L740.5 225.3L741.0 225.6L741.4 225.3L741.9 225.5L742.3 225.5L742.8 225.8L743.2 226.0L743.7 225.9L744.1 225.4L744.5 225.4L745.0 226.0L745.4 225.5L745.9 225.6L746.3 226.0L746.8 226.0L747.2 226.0L747.7 225.3L748.1 225.3L748.6 225.6L749.0 225.7L749.5 225.7L749.9 225.5L750.4 225.3L750.8 224.5L751.3 223.9L751.7 223.5L752.2 222.8L752.6 222.5L753.1 222.7L753.5 222.6L754.0 222.3L754.4 222.0L754.9 221.7L755.3 221.5L755.8 221.9L756.2 222.6L756.7 223.4L757.1 223.2L757.6 223.6L758.0 224.5L758.5 225.3L758.9 224.7L759.4 225.3L759.8 225.0L760.3 225.7L760.7 225.4L761.2 225.6L761.6 225.1L762.1 225.6L762.5 226.0L763.0 226.0L763.4 225.4L763.9 224.9L764.3 225.1L764.8 225.1L765.2 225.6L765.7 225.8L766.1 226.0L766.6 225.1L767.0 225.8L767.5 225.4L767.9 225.5L768.4 225.6L768.8 225.4L769.3 224.6L769.7 224.9L770.1 224.6L770.6 223.4L771.0 222.1L771.5 221.0L771.9 219.9L772.4 217.6L772.8 216.3L773.3 214.3L773.7 211.8L774.2 208.8L774.6 205.6L775.1 202.1L775.5 198.1L776.0 193.8L776.4 189.7L776.9 185.6L777.3 179.9L777.8 175.2L778.2 169.6L778.7 164.0L779.1 157.7L779.6 151.5L780.0 146.2L780.5 140.5L780.9 134.4L781.4 129.1L781.8 124.9L782.3 120.1L782.7 115.9L783.2 112.9L783.6 110.6L784.1 110.7L784.5 113.0L785.0 115.8L785.4 118.7L785.9 121.6L786.3 125.2L786.8 128.7L787.2 132.4L787.7 136.4L788.1 140.8L788.6 144.8L789.0 150.0L789.5 154.5L789.9 158.3L790.4 162.6L790.8 166.9L791.3 171.4L791.7 175.9L792.2 179.8L792.6 183.9L793.1 188.2L793.5 191.8L794.0 195.4L794.4 197.7L794.8 201.0L795.3 203.7L795.7 206.1L796.2 208.9L796.6 210.5L797.1 212.1L797.5 213.7L798.0 215.0L798.4 216.8L798.9 218.2L799.3 218.2L799.8 218.3L800.2 218.5L800.7 218.3L801.1 218.0L801.6 216.6L802.0 216.2L802.5 215.3L802.9 215.6L803.4 216.1L803.8 216.8L804.3 217.6L804.7 218.6L805.2 220.4L805.6 221.5L806.1 222.9L806.5 223.3L807.0 223.9L807.4 224.6L807.9 225.2L808.3 225.5L808.8 225.1L809.2 225.0L809.7 225.5L810.1 225.9L810.6 226.0L811.0 225.2L811.5 225.9L811.9 225.3L812.4 225.4L812.8 225.4L813.3 225.4L813.7 225.5L814.2 225.4L814.6 225.9L815.1 225.1L815.5 225.7L816.0 225.9L816.4 225.4L816.9 225.2L817.3 224.9L817.8 224.9L818.2 224.6L818.7 225.4L819.1 225.8L819.5 225.6L820.0 224.9L820.4 225.2L820.9 224.9L821.3 224.4L821.8 224.8L822.2 224.5L822.7 223.9L823.1 223.7L823.6 223.9L824.0 223.8L824.5 223.9L824.9 223.0L825.4 222.8L825.8 222.7L826.3 222.9L826.7 222.4L827.2 222.4L827.6 221.9L828.1 222.0L828.5 221.4L829.0 221.3L829.4 221.4L829.9 221.3L830.3 220.9L830.8 221.0L831.2 220.5L831.7 221.3L832.1 220.7L832.6 220.6L833.0 220.9L833.5 220.6L833.9 221.3L834.4 221.5L834.8 221.2L835.3 221.1L835.7 221.6L836.2 221.2L836.6 221.6L837.1 222.5L837.5 222.9L838.0 223.3L838.4 223.0L838.9 223.3L839.3 223.5L839.8 223.6L840.2 224.1L840.7 223.5L841.1 223.5L841.6 223.8L842.0 224.2L842.5 224.6L842.9 224.5L843.4 224.8L843.8 224.3L844.2 224.2L844.7 224.4L845.1 224.5L845.6 225.3L846.0 225.7L846.5 225.6L846.9 225.8L847.4 225.6"/></g>
<g fill="#a82839" stroke="#a82839" stroke-width="0.3" font-weight="bold"><text x="713.90" y="148.70" font-size="12.50" textLength="17.70" lengthAdjust="spacingAndGlyphs">4h</text><text x="714.80" y="161.10" font-size="12.50" textLength="16.80" lengthAdjust="spacingAndGlyphs">3h</text><text x="714.80" y="176.10" font-size="12.50" textLength="16.80" lengthAdjust="spacingAndGlyphs">2h</text><text x="708.50" y="189.30" font-size="12.50" textLength="29.60" lengthAdjust="spacingAndGlyphs">1.5h</text><text x="715.10" y="202.40" font-size="12.50" textLength="16.10" lengthAdjust="spacingAndGlyphs">1h</text><text x="708.60" y="213.50" font-size="12.50" textLength="29.00" lengthAdjust="spacingAndGlyphs">0.5h</text><text x="714.50" y="225.00" font-size="12.50" textLength="17.00" lengthAdjust="spacingAndGlyphs">0h</text></g>
</svg>
</body></html>
